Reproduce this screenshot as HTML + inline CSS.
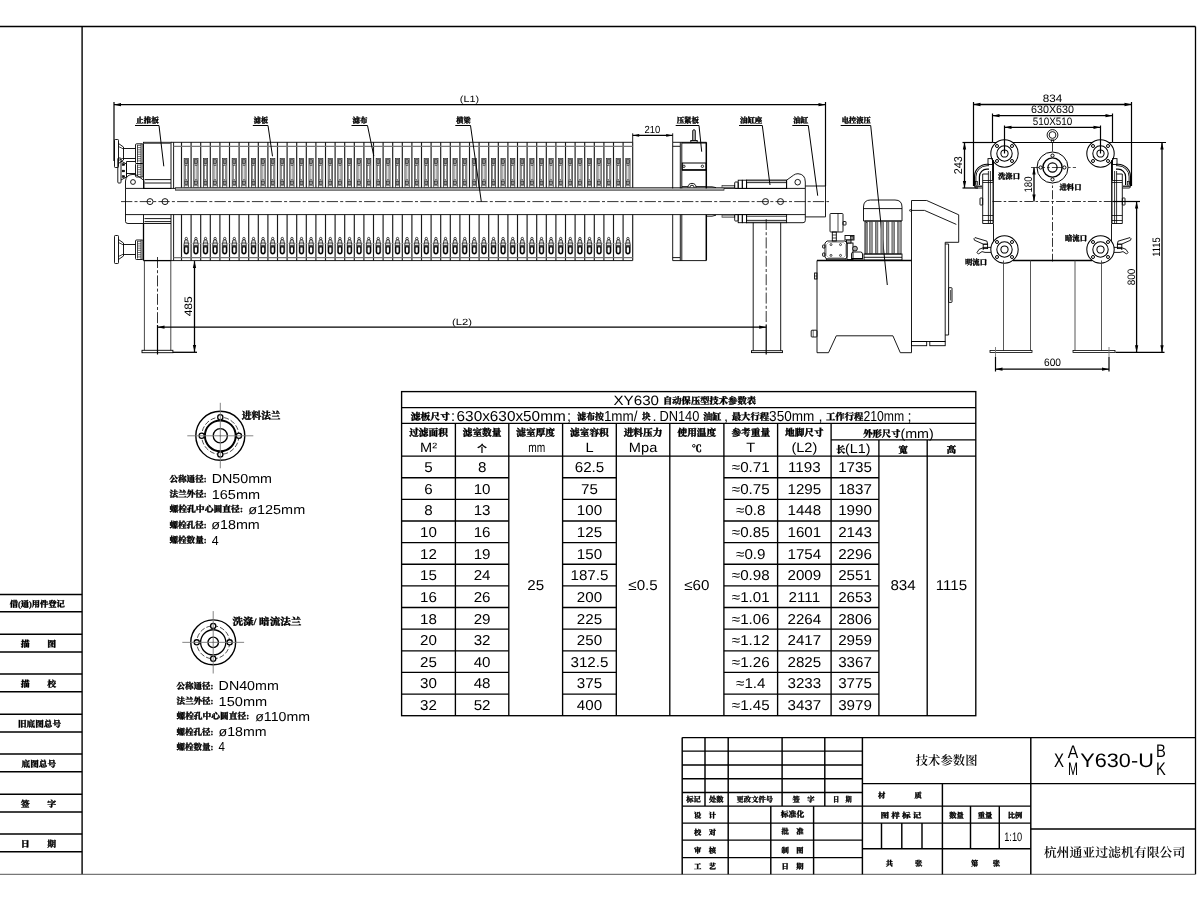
<!DOCTYPE html>
<html lang="zh"><head><meta charset="utf-8"><title>XY630 技术参数图</title>
<style>
html,body{margin:0;padding:0;background:#fff;}
svg{display:block;filter:grayscale(1)}
text{white-space:pre;text-rendering:geometricPrecision}
.l{font-family:"Liberation Sans","Noto Sans CJK SC",sans-serif}
.c{font-family:"Liberation Sans","Noto Sans CJK SC",sans-serif}
.cb{font-family:"Liberation Serif","Noto Serif CJK SC",serif;font-weight:900;stroke:#000;stroke-width:0.3px}
.cs{font-family:"Liberation Serif","Noto Serif CJK SC",serif;font-weight:600}
</style></head><body>
<svg width="1200" height="900" viewBox="0 0 1200 900" shape-rendering="geometricPrecision">
<rect x="0" y="0" width="1200" height="900" fill="#fff"/>
<g id="part_frame">
<line x1="0.00" y1="26.50" x2="1195.50" y2="26.50" stroke="#000" stroke-width="1.3"/>
<line x1="1195.50" y1="26.50" x2="1195.50" y2="874.30" stroke="#000" stroke-width="1.3"/>
<line x1="82.10" y1="26.50" x2="82.10" y2="874.30" stroke="#000" stroke-width="1.4"/>
<line x1="0.00" y1="874.30" x2="1195.50" y2="874.30" stroke="#555" stroke-width="1"/>
<line x1="0.00" y1="594.60" x2="82.10" y2="594.60" stroke="#000" stroke-width="1.5"/>
<line x1="0.00" y1="611.80" x2="82.10" y2="611.80" stroke="#000" stroke-width="1.5"/>
<line x1="0.00" y1="634.20" x2="82.10" y2="634.20" stroke="#000" stroke-width="1.5"/>
<line x1="0.00" y1="652.00" x2="82.10" y2="652.00" stroke="#000" stroke-width="1.5"/>
<line x1="0.00" y1="674.00" x2="82.10" y2="674.00" stroke="#000" stroke-width="1.5"/>
<line x1="0.00" y1="691.80" x2="82.10" y2="691.80" stroke="#000" stroke-width="1.5"/>
<line x1="0.00" y1="714.20" x2="82.10" y2="714.20" stroke="#000" stroke-width="1.5"/>
<line x1="0.00" y1="732.00" x2="82.10" y2="732.00" stroke="#000" stroke-width="1.5"/>
<line x1="0.00" y1="754.00" x2="82.10" y2="754.00" stroke="#000" stroke-width="1.5"/>
<line x1="0.00" y1="771.80" x2="82.10" y2="771.80" stroke="#000" stroke-width="1.5"/>
<line x1="0.00" y1="794.20" x2="82.10" y2="794.20" stroke="#000" stroke-width="1.5"/>
<line x1="0.00" y1="812.00" x2="82.10" y2="812.00" stroke="#000" stroke-width="1.5"/>
<line x1="0.00" y1="834.00" x2="82.10" y2="834.00" stroke="#000" stroke-width="1.5"/>
<line x1="0.00" y1="851.80" x2="82.10" y2="851.80" stroke="#000" stroke-width="1.5"/>
<text x="37.30" y="606.50" class="cb" font-size="8.4" text-anchor="middle" fill="#000" textLength="55.00" lengthAdjust="spacingAndGlyphs">借(通)用件登记</text>
<text x="38.50" y="646.50" class="cb" font-size="8.6" text-anchor="middle" fill="#000" textLength="35.50" lengthAdjust="spacingAndGlyphs">描　　图</text>
<text x="38.50" y="686.50" class="cb" font-size="8.6" text-anchor="middle" fill="#000" textLength="35.50" lengthAdjust="spacingAndGlyphs">描　　校</text>
<text x="39.50" y="726.50" class="cb" font-size="8.6" text-anchor="middle" fill="#000">旧底图总号</text>
<text x="38.80" y="766.50" class="cb" font-size="8.6" text-anchor="middle" fill="#000">底图总号</text>
<text x="38.50" y="806.50" class="cb" font-size="8.6" text-anchor="middle" fill="#000" textLength="35.50" lengthAdjust="spacingAndGlyphs">签　　字</text>
<text x="38.50" y="846.50" class="cb" font-size="8.6" text-anchor="middle" fill="#000" textLength="35.50" lengthAdjust="spacingAndGlyphs">日　　期</text>
</g>
<g id="part_table">
<rect x="401.60" y="391.60" width="574.20" height="324.10" fill="none" stroke="#000" stroke-width="1.35"/>
<line x1="401.60" y1="407.60" x2="975.80" y2="407.60" stroke="#000" stroke-width="1.35"/>
<line x1="401.60" y1="423.40" x2="975.80" y2="423.40" stroke="#000" stroke-width="1.35"/>
<line x1="401.60" y1="456.10" x2="975.80" y2="456.10" stroke="#000" stroke-width="1.35"/>
<line x1="455.40" y1="423.40" x2="455.40" y2="715.70" stroke="#000" stroke-width="1.35"/>
<line x1="508.80" y1="423.40" x2="508.80" y2="715.70" stroke="#000" stroke-width="1.35"/>
<line x1="562.60" y1="423.40" x2="562.60" y2="715.70" stroke="#000" stroke-width="1.35"/>
<line x1="616.30" y1="423.40" x2="616.30" y2="715.70" stroke="#000" stroke-width="1.35"/>
<line x1="669.80" y1="423.40" x2="669.80" y2="715.70" stroke="#000" stroke-width="1.35"/>
<line x1="723.90" y1="423.40" x2="723.90" y2="715.70" stroke="#000" stroke-width="1.35"/>
<line x1="777.60" y1="423.40" x2="777.60" y2="715.70" stroke="#000" stroke-width="1.35"/>
<line x1="831.10" y1="423.40" x2="831.10" y2="715.70" stroke="#000" stroke-width="1.35"/>
<line x1="878.90" y1="439.90" x2="878.90" y2="715.70" stroke="#000" stroke-width="1.35"/>
<line x1="927.20" y1="439.90" x2="927.20" y2="715.70" stroke="#000" stroke-width="1.35"/>
<line x1="831.10" y1="439.90" x2="975.80" y2="439.90" stroke="#000" stroke-width="1.35"/>
<line x1="401.60" y1="477.73" x2="508.80" y2="477.73" stroke="#000" stroke-width="1.35"/>
<line x1="562.60" y1="477.73" x2="616.30" y2="477.73" stroke="#000" stroke-width="1.35"/>
<line x1="723.90" y1="477.73" x2="878.90" y2="477.73" stroke="#000" stroke-width="1.35"/>
<line x1="401.60" y1="499.37" x2="508.80" y2="499.37" stroke="#000" stroke-width="1.35"/>
<line x1="562.60" y1="499.37" x2="616.30" y2="499.37" stroke="#000" stroke-width="1.35"/>
<line x1="723.90" y1="499.37" x2="878.90" y2="499.37" stroke="#000" stroke-width="1.35"/>
<line x1="401.60" y1="521.00" x2="508.80" y2="521.00" stroke="#000" stroke-width="1.35"/>
<line x1="562.60" y1="521.00" x2="616.30" y2="521.00" stroke="#000" stroke-width="1.35"/>
<line x1="723.90" y1="521.00" x2="878.90" y2="521.00" stroke="#000" stroke-width="1.35"/>
<line x1="401.60" y1="542.63" x2="508.80" y2="542.63" stroke="#000" stroke-width="1.35"/>
<line x1="562.60" y1="542.63" x2="616.30" y2="542.63" stroke="#000" stroke-width="1.35"/>
<line x1="723.90" y1="542.63" x2="878.90" y2="542.63" stroke="#000" stroke-width="1.35"/>
<line x1="401.60" y1="564.27" x2="508.80" y2="564.27" stroke="#000" stroke-width="1.35"/>
<line x1="562.60" y1="564.27" x2="616.30" y2="564.27" stroke="#000" stroke-width="1.35"/>
<line x1="723.90" y1="564.27" x2="878.90" y2="564.27" stroke="#000" stroke-width="1.35"/>
<line x1="401.60" y1="585.90" x2="508.80" y2="585.90" stroke="#000" stroke-width="1.35"/>
<line x1="562.60" y1="585.90" x2="616.30" y2="585.90" stroke="#000" stroke-width="1.35"/>
<line x1="723.90" y1="585.90" x2="878.90" y2="585.90" stroke="#000" stroke-width="1.35"/>
<line x1="401.60" y1="607.53" x2="508.80" y2="607.53" stroke="#000" stroke-width="1.35"/>
<line x1="562.60" y1="607.53" x2="616.30" y2="607.53" stroke="#000" stroke-width="1.35"/>
<line x1="723.90" y1="607.53" x2="878.90" y2="607.53" stroke="#000" stroke-width="1.35"/>
<line x1="401.60" y1="629.17" x2="508.80" y2="629.17" stroke="#000" stroke-width="1.35"/>
<line x1="562.60" y1="629.17" x2="616.30" y2="629.17" stroke="#000" stroke-width="1.35"/>
<line x1="723.90" y1="629.17" x2="878.90" y2="629.17" stroke="#000" stroke-width="1.35"/>
<line x1="401.60" y1="650.80" x2="508.80" y2="650.80" stroke="#000" stroke-width="1.35"/>
<line x1="562.60" y1="650.80" x2="616.30" y2="650.80" stroke="#000" stroke-width="1.35"/>
<line x1="723.90" y1="650.80" x2="878.90" y2="650.80" stroke="#000" stroke-width="1.35"/>
<line x1="401.60" y1="672.43" x2="508.80" y2="672.43" stroke="#000" stroke-width="1.35"/>
<line x1="562.60" y1="672.43" x2="616.30" y2="672.43" stroke="#000" stroke-width="1.35"/>
<line x1="723.90" y1="672.43" x2="878.90" y2="672.43" stroke="#000" stroke-width="1.35"/>
<line x1="401.60" y1="694.07" x2="508.80" y2="694.07" stroke="#000" stroke-width="1.35"/>
<line x1="562.60" y1="694.07" x2="616.30" y2="694.07" stroke="#000" stroke-width="1.35"/>
<line x1="723.90" y1="694.07" x2="878.90" y2="694.07" stroke="#000" stroke-width="1.35"/>
<text x="613.50" y="404.50" class="l" font-size="13.5" text-anchor="start" fill="#000" textLength="45.50" lengthAdjust="spacingAndGlyphs">XY630</text>
<text x="663.00" y="403.60" class="cb" font-size="9.3" text-anchor="start" fill="#000" textLength="93.00" lengthAdjust="spacingAndGlyphs">自动保压型技术参数表</text>
<text x="410.70" y="419.80" class="cb" font-size="9.5" text-anchor="start" fill="#000" textLength="39.30" lengthAdjust="spacingAndGlyphs">滤板尺寸</text>
<text x="451.00" y="420.80" class="l" font-size="14.5" text-anchor="start" fill="#000">:</text>
<text x="456.60" y="420.80" class="l" font-size="14.5" text-anchor="start" fill="#000" textLength="109.10" lengthAdjust="spacingAndGlyphs">630x630x50mm</text>
<text x="567.00" y="420.80" class="l" font-size="14.5" text-anchor="start" fill="#000">;</text>
<text x="577.30" y="419.80" class="cb" font-size="9.5" text-anchor="start" fill="#000" textLength="26.60" lengthAdjust="spacingAndGlyphs">滤布按</text>
<text x="603.90" y="420.80" class="l" font-size="14.5" text-anchor="start" fill="#000" textLength="33.60" lengthAdjust="spacingAndGlyphs">1mm/</text>
<text x="641.90" y="419.80" class="cb" font-size="9.5" text-anchor="start" fill="#000" textLength="8.60" lengthAdjust="spacingAndGlyphs">块</text>
<text x="652.50" y="420.80" class="l" font-size="14.5" text-anchor="start" fill="#000">.</text>
<text x="659.40" y="420.80" class="l" font-size="14.5" text-anchor="start" fill="#000" textLength="40.00" lengthAdjust="spacingAndGlyphs">DN140</text>
<text x="703.20" y="419.80" class="cb" font-size="9.5" text-anchor="start" fill="#000" textLength="18.10" lengthAdjust="spacingAndGlyphs">油缸</text>
<text x="724.00" y="420.80" class="l" font-size="14.5" text-anchor="start" fill="#000">,</text>
<text x="731.70" y="419.80" class="cb" font-size="9.5" text-anchor="start" fill="#000" textLength="37.40" lengthAdjust="spacingAndGlyphs">最大行程</text>
<text x="769.10" y="420.80" class="l" font-size="14.5" text-anchor="start" fill="#000" textLength="45.20" lengthAdjust="spacingAndGlyphs">350mm</text>
<text x="818.50" y="420.80" class="l" font-size="14.5" text-anchor="start" fill="#000">,</text>
<text x="826.00" y="419.80" class="cb" font-size="9.5" text-anchor="start" fill="#000" textLength="37.40" lengthAdjust="spacingAndGlyphs">工作行程</text>
<text x="863.40" y="420.80" class="l" font-size="14.5" text-anchor="start" fill="#000" textLength="40.80" lengthAdjust="spacingAndGlyphs">210mm</text>
<text x="907.50" y="420.80" class="l" font-size="14.5" text-anchor="start" fill="#000">;</text>
<text x="428.50" y="436.30" class="cb" font-size="9.7" text-anchor="middle" fill="#000">过滤面积</text>
<text x="0" y="0" class="l" font-size="13.5" text-anchor="middle" fill="#000" transform="translate(428.50,452.30) scale(1.08,1)">M²</text>
<text x="482.10" y="436.30" class="cb" font-size="9.7" text-anchor="middle" fill="#000">滤室数量</text>
<text x="482.10" y="451.80" class="c" font-size="10" text-anchor="middle" fill="#000" font-weight="700">个</text>
<text x="535.70" y="436.30" class="cb" font-size="9.7" text-anchor="middle" fill="#000">滤室厚度</text>
<text x="536.70" y="452.30" class="l" font-size="13.5" text-anchor="middle" fill="#000" textLength="17.00" lengthAdjust="spacingAndGlyphs">mm</text>
<text x="589.45" y="436.30" class="cb" font-size="9.7" text-anchor="middle" fill="#000">滤室容积</text>
<text x="0" y="0" class="l" font-size="13.5" text-anchor="middle" fill="#000" transform="translate(589.45,452.30) scale(1.08,1)">L</text>
<text x="643.05" y="436.30" class="cb" font-size="9.7" text-anchor="middle" fill="#000">进料压力</text>
<text x="0" y="0" class="l" font-size="13.5" text-anchor="middle" fill="#000" transform="translate(643.05,452.30) scale(1.08,1)">Mpa</text>
<text x="696.85" y="436.30" class="cb" font-size="9.7" text-anchor="middle" fill="#000">使用温度</text>
<text x="696.85" y="451.80" class="cb" font-size="10" text-anchor="middle" fill="#000">℃</text>
<text x="750.75" y="436.30" class="cb" font-size="9.7" text-anchor="middle" fill="#000">参考重量</text>
<text x="0" y="0" class="l" font-size="13.5" text-anchor="middle" fill="#000" transform="translate(750.75,452.30) scale(1.08,1)">T</text>
<text x="804.35" y="436.30" class="cb" font-size="9.7" text-anchor="middle" fill="#000">地脚尺寸</text>
<text x="0" y="0" class="l" font-size="13.5" text-anchor="middle" fill="#000" transform="translate(804.35,452.30) scale(1.08,1)">(L2)</text>
<text x="900.45" y="436.50" class="cb" font-size="9.3" text-anchor="end" fill="#000">外形尺寸</text>
<text x="0" y="0" class="l" font-size="13" text-anchor="start" fill="#000" transform="translate(900.45,437.50) scale(1.1,1)">(mm)</text>
<text x="836.00" y="452.50" class="cb" font-size="9.3" text-anchor="start" fill="#000">长</text>
<text x="0" y="0" class="l" font-size="13" text-anchor="start" fill="#000" transform="translate(845.00,453.00) scale(1.1,1)">(L1)</text>
<text x="903.05" y="452.50" class="cb" font-size="9.3" text-anchor="middle" fill="#000">宽</text>
<text x="951.50" y="452.50" class="cb" font-size="9.3" text-anchor="middle" fill="#000">高</text>
<text x="0" y="0" class="l" font-size="14.3" text-anchor="middle" fill="#000" transform="translate(428.50,472.12) scale(1.06,1)">5</text>
<text x="0" y="0" class="l" font-size="14.3" text-anchor="middle" fill="#000" transform="translate(482.10,472.12) scale(1.06,1)">8</text>
<text x="0" y="0" class="l" font-size="14.3" text-anchor="middle" fill="#000" transform="translate(589.45,472.12) scale(1.06,1)">62.5</text>
<text x="0" y="0" class="l" font-size="14.3" text-anchor="middle" fill="#000" transform="translate(804.35,472.12) scale(1.06,1)">1193</text>
<text x="0" y="0" class="l" font-size="14.3" text-anchor="middle" fill="#000" transform="translate(855.00,472.12) scale(1.06,1)">1735</text>
<text x="0" y="0" class="l" font-size="14.3" text-anchor="middle" fill="#000" transform="translate(750.75,472.12) scale(1.06,1)">≈0.71</text>
<text x="0" y="0" class="l" font-size="14.3" text-anchor="middle" fill="#000" transform="translate(428.50,493.75) scale(1.06,1)">6</text>
<text x="0" y="0" class="l" font-size="14.3" text-anchor="middle" fill="#000" transform="translate(482.10,493.75) scale(1.06,1)">10</text>
<text x="0" y="0" class="l" font-size="14.3" text-anchor="middle" fill="#000" transform="translate(589.45,493.75) scale(1.06,1)">75</text>
<text x="0" y="0" class="l" font-size="14.3" text-anchor="middle" fill="#000" transform="translate(804.35,493.75) scale(1.06,1)">1295</text>
<text x="0" y="0" class="l" font-size="14.3" text-anchor="middle" fill="#000" transform="translate(855.00,493.75) scale(1.06,1)">1837</text>
<text x="0" y="0" class="l" font-size="14.3" text-anchor="middle" fill="#000" transform="translate(750.75,493.75) scale(1.06,1)">≈0.75</text>
<text x="0" y="0" class="l" font-size="14.3" text-anchor="middle" fill="#000" transform="translate(428.50,515.38) scale(1.06,1)">8</text>
<text x="0" y="0" class="l" font-size="14.3" text-anchor="middle" fill="#000" transform="translate(482.10,515.38) scale(1.06,1)">13</text>
<text x="0" y="0" class="l" font-size="14.3" text-anchor="middle" fill="#000" transform="translate(589.45,515.38) scale(1.06,1)">100</text>
<text x="0" y="0" class="l" font-size="14.3" text-anchor="middle" fill="#000" transform="translate(804.35,515.38) scale(1.06,1)">1448</text>
<text x="0" y="0" class="l" font-size="14.3" text-anchor="middle" fill="#000" transform="translate(855.00,515.38) scale(1.06,1)">1990</text>
<text x="0" y="0" class="l" font-size="14.3" text-anchor="middle" fill="#000" transform="translate(750.75,515.38) scale(1.06,1)">≈0.8</text>
<text x="0" y="0" class="l" font-size="14.3" text-anchor="middle" fill="#000" transform="translate(428.50,537.02) scale(1.06,1)">10</text>
<text x="0" y="0" class="l" font-size="14.3" text-anchor="middle" fill="#000" transform="translate(482.10,537.02) scale(1.06,1)">16</text>
<text x="0" y="0" class="l" font-size="14.3" text-anchor="middle" fill="#000" transform="translate(589.45,537.02) scale(1.06,1)">125</text>
<text x="0" y="0" class="l" font-size="14.3" text-anchor="middle" fill="#000" transform="translate(804.35,537.02) scale(1.06,1)">1601</text>
<text x="0" y="0" class="l" font-size="14.3" text-anchor="middle" fill="#000" transform="translate(855.00,537.02) scale(1.06,1)">2143</text>
<text x="0" y="0" class="l" font-size="14.3" text-anchor="middle" fill="#000" transform="translate(750.75,537.02) scale(1.06,1)">≈0.85</text>
<text x="0" y="0" class="l" font-size="14.3" text-anchor="middle" fill="#000" transform="translate(428.50,558.65) scale(1.06,1)">12</text>
<text x="0" y="0" class="l" font-size="14.3" text-anchor="middle" fill="#000" transform="translate(482.10,558.65) scale(1.06,1)">19</text>
<text x="0" y="0" class="l" font-size="14.3" text-anchor="middle" fill="#000" transform="translate(589.45,558.65) scale(1.06,1)">150</text>
<text x="0" y="0" class="l" font-size="14.3" text-anchor="middle" fill="#000" transform="translate(804.35,558.65) scale(1.06,1)">1754</text>
<text x="0" y="0" class="l" font-size="14.3" text-anchor="middle" fill="#000" transform="translate(855.00,558.65) scale(1.06,1)">2296</text>
<text x="0" y="0" class="l" font-size="14.3" text-anchor="middle" fill="#000" transform="translate(750.75,558.65) scale(1.06,1)">≈0.9</text>
<text x="0" y="0" class="l" font-size="14.3" text-anchor="middle" fill="#000" transform="translate(428.50,580.28) scale(1.06,1)">15</text>
<text x="0" y="0" class="l" font-size="14.3" text-anchor="middle" fill="#000" transform="translate(482.10,580.28) scale(1.06,1)">24</text>
<text x="0" y="0" class="l" font-size="14.3" text-anchor="middle" fill="#000" transform="translate(589.45,580.28) scale(1.06,1)">187.5</text>
<text x="0" y="0" class="l" font-size="14.3" text-anchor="middle" fill="#000" transform="translate(804.35,580.28) scale(1.06,1)">2009</text>
<text x="0" y="0" class="l" font-size="14.3" text-anchor="middle" fill="#000" transform="translate(855.00,580.28) scale(1.06,1)">2551</text>
<text x="0" y="0" class="l" font-size="14.3" text-anchor="middle" fill="#000" transform="translate(750.75,580.28) scale(1.06,1)">≈0.98</text>
<text x="0" y="0" class="l" font-size="14.3" text-anchor="middle" fill="#000" transform="translate(428.50,601.92) scale(1.06,1)">16</text>
<text x="0" y="0" class="l" font-size="14.3" text-anchor="middle" fill="#000" transform="translate(482.10,601.92) scale(1.06,1)">26</text>
<text x="0" y="0" class="l" font-size="14.3" text-anchor="middle" fill="#000" transform="translate(589.45,601.92) scale(1.06,1)">200</text>
<text x="0" y="0" class="l" font-size="14.3" text-anchor="middle" fill="#000" transform="translate(804.35,601.92) scale(1.06,1)">2111</text>
<text x="0" y="0" class="l" font-size="14.3" text-anchor="middle" fill="#000" transform="translate(855.00,601.92) scale(1.06,1)">2653</text>
<text x="0" y="0" class="l" font-size="14.3" text-anchor="middle" fill="#000" transform="translate(750.75,601.92) scale(1.06,1)">≈1.01</text>
<text x="0" y="0" class="l" font-size="14.3" text-anchor="middle" fill="#000" transform="translate(428.50,623.55) scale(1.06,1)">18</text>
<text x="0" y="0" class="l" font-size="14.3" text-anchor="middle" fill="#000" transform="translate(482.10,623.55) scale(1.06,1)">29</text>
<text x="0" y="0" class="l" font-size="14.3" text-anchor="middle" fill="#000" transform="translate(589.45,623.55) scale(1.06,1)">225</text>
<text x="0" y="0" class="l" font-size="14.3" text-anchor="middle" fill="#000" transform="translate(804.35,623.55) scale(1.06,1)">2264</text>
<text x="0" y="0" class="l" font-size="14.3" text-anchor="middle" fill="#000" transform="translate(855.00,623.55) scale(1.06,1)">2806</text>
<text x="0" y="0" class="l" font-size="14.3" text-anchor="middle" fill="#000" transform="translate(750.75,623.55) scale(1.06,1)">≈1.06</text>
<text x="0" y="0" class="l" font-size="14.3" text-anchor="middle" fill="#000" transform="translate(428.50,645.18) scale(1.06,1)">20</text>
<text x="0" y="0" class="l" font-size="14.3" text-anchor="middle" fill="#000" transform="translate(482.10,645.18) scale(1.06,1)">32</text>
<text x="0" y="0" class="l" font-size="14.3" text-anchor="middle" fill="#000" transform="translate(589.45,645.18) scale(1.06,1)">250</text>
<text x="0" y="0" class="l" font-size="14.3" text-anchor="middle" fill="#000" transform="translate(804.35,645.18) scale(1.06,1)">2417</text>
<text x="0" y="0" class="l" font-size="14.3" text-anchor="middle" fill="#000" transform="translate(855.00,645.18) scale(1.06,1)">2959</text>
<text x="0" y="0" class="l" font-size="14.3" text-anchor="middle" fill="#000" transform="translate(750.75,645.18) scale(1.06,1)">≈1.12</text>
<text x="0" y="0" class="l" font-size="14.3" text-anchor="middle" fill="#000" transform="translate(428.50,666.82) scale(1.06,1)">25</text>
<text x="0" y="0" class="l" font-size="14.3" text-anchor="middle" fill="#000" transform="translate(482.10,666.82) scale(1.06,1)">40</text>
<text x="0" y="0" class="l" font-size="14.3" text-anchor="middle" fill="#000" transform="translate(589.45,666.82) scale(1.06,1)">312.5</text>
<text x="0" y="0" class="l" font-size="14.3" text-anchor="middle" fill="#000" transform="translate(804.35,666.82) scale(1.06,1)">2825</text>
<text x="0" y="0" class="l" font-size="14.3" text-anchor="middle" fill="#000" transform="translate(855.00,666.82) scale(1.06,1)">3367</text>
<text x="0" y="0" class="l" font-size="14.3" text-anchor="middle" fill="#000" transform="translate(750.75,666.82) scale(1.06,1)">≈1.26</text>
<text x="0" y="0" class="l" font-size="14.3" text-anchor="middle" fill="#000" transform="translate(428.50,688.45) scale(1.06,1)">30</text>
<text x="0" y="0" class="l" font-size="14.3" text-anchor="middle" fill="#000" transform="translate(482.10,688.45) scale(1.06,1)">48</text>
<text x="0" y="0" class="l" font-size="14.3" text-anchor="middle" fill="#000" transform="translate(589.45,688.45) scale(1.06,1)">375</text>
<text x="0" y="0" class="l" font-size="14.3" text-anchor="middle" fill="#000" transform="translate(804.35,688.45) scale(1.06,1)">3233</text>
<text x="0" y="0" class="l" font-size="14.3" text-anchor="middle" fill="#000" transform="translate(855.00,688.45) scale(1.06,1)">3775</text>
<text x="0" y="0" class="l" font-size="14.3" text-anchor="middle" fill="#000" transform="translate(750.75,688.45) scale(1.06,1)">≈1.4</text>
<text x="0" y="0" class="l" font-size="14.3" text-anchor="middle" fill="#000" transform="translate(428.50,710.08) scale(1.06,1)">32</text>
<text x="0" y="0" class="l" font-size="14.3" text-anchor="middle" fill="#000" transform="translate(482.10,710.08) scale(1.06,1)">52</text>
<text x="0" y="0" class="l" font-size="14.3" text-anchor="middle" fill="#000" transform="translate(589.45,710.08) scale(1.06,1)">400</text>
<text x="0" y="0" class="l" font-size="14.3" text-anchor="middle" fill="#000" transform="translate(804.35,710.08) scale(1.06,1)">3437</text>
<text x="0" y="0" class="l" font-size="14.3" text-anchor="middle" fill="#000" transform="translate(855.00,710.08) scale(1.06,1)">3979</text>
<text x="0" y="0" class="l" font-size="14.3" text-anchor="middle" fill="#000" transform="translate(750.75,710.08) scale(1.06,1)">≈1.45</text>
<text x="0" y="0" class="l" font-size="14.3" text-anchor="middle" fill="#000" transform="translate(535.70,589.60) scale(1.06,1)">25</text>
<text x="0" y="0" class="l" font-size="14.3" text-anchor="middle" fill="#000" transform="translate(643.05,589.60) scale(1.06,1)">≤0.5</text>
<text x="0" y="0" class="l" font-size="14.3" text-anchor="middle" fill="#000" transform="translate(696.85,589.60) scale(1.06,1)">≤60</text>
<text x="0" y="0" class="l" font-size="14.3" text-anchor="middle" fill="#000" transform="translate(903.05,589.60) scale(1.06,1)">834</text>
<text x="0" y="0" class="l" font-size="14.3" text-anchor="middle" fill="#000" transform="translate(951.50,589.60) scale(1.06,1)">1115</text>
</g>
<g id="part_title">
<line x1="682.20" y1="737.60" x2="1195.50" y2="737.60" stroke="#000" stroke-width="1.45"/>
<line x1="682.20" y1="737.60" x2="682.20" y2="874.30" stroke="#000" stroke-width="1.45"/>
<line x1="682.20" y1="751.10" x2="862.40" y2="751.10" stroke="#000" stroke-width="1.45"/>
<line x1="682.20" y1="764.90" x2="862.40" y2="764.90" stroke="#000" stroke-width="1.45"/>
<line x1="682.20" y1="778.70" x2="862.40" y2="778.70" stroke="#000" stroke-width="1.45"/>
<line x1="682.20" y1="792.50" x2="862.40" y2="792.50" stroke="#000" stroke-width="1.45"/>
<line x1="682.20" y1="806.10" x2="862.40" y2="806.10" stroke="#000" stroke-width="1.45"/>
<line x1="705.00" y1="737.60" x2="705.00" y2="806.10" stroke="#000" stroke-width="1.45"/>
<line x1="728.20" y1="737.60" x2="728.20" y2="806.10" stroke="#000" stroke-width="1.45"/>
<line x1="782.10" y1="737.60" x2="782.10" y2="806.10" stroke="#000" stroke-width="1.45"/>
<line x1="824.80" y1="737.60" x2="824.80" y2="806.10" stroke="#000" stroke-width="1.45"/>
<line x1="862.40" y1="737.60" x2="862.40" y2="874.30" stroke="#000" stroke-width="1.45"/>
<line x1="682.20" y1="823.10" x2="862.40" y2="823.10" stroke="#000" stroke-width="1.45"/>
<line x1="682.20" y1="840.10" x2="862.40" y2="840.10" stroke="#000" stroke-width="1.45"/>
<line x1="682.20" y1="857.60" x2="862.40" y2="857.60" stroke="#000" stroke-width="1.45"/>
<line x1="728.20" y1="806.10" x2="728.20" y2="874.30" stroke="#000" stroke-width="1.45"/>
<line x1="770.80" y1="806.10" x2="770.80" y2="874.30" stroke="#000" stroke-width="1.45"/>
<line x1="813.60" y1="806.10" x2="813.60" y2="874.30" stroke="#000" stroke-width="1.45"/>
<line x1="862.40" y1="783.60" x2="1195.50" y2="783.60" stroke="#000" stroke-width="1.45"/>
<line x1="862.40" y1="806.10" x2="1030.80" y2="806.10" stroke="#000" stroke-width="1.45"/>
<line x1="862.40" y1="823.10" x2="1030.80" y2="823.10" stroke="#000" stroke-width="1.45"/>
<line x1="862.40" y1="848.80" x2="1030.80" y2="848.80" stroke="#000" stroke-width="1.45"/>
<line x1="942.40" y1="783.60" x2="942.40" y2="874.30" stroke="#000" stroke-width="1.45"/>
<line x1="1030.80" y1="737.60" x2="1030.80" y2="874.30" stroke="#000" stroke-width="1.45"/>
<line x1="881.50" y1="823.10" x2="881.50" y2="848.80" stroke="#000" stroke-width="1.45"/>
<line x1="901.80" y1="823.10" x2="901.80" y2="848.80" stroke="#000" stroke-width="1.45"/>
<line x1="922.00" y1="823.10" x2="922.00" y2="848.80" stroke="#000" stroke-width="1.45"/>
<line x1="970.50" y1="806.10" x2="970.50" y2="848.80" stroke="#000" stroke-width="1.45"/>
<line x1="999.30" y1="806.10" x2="999.30" y2="848.80" stroke="#000" stroke-width="1.45"/>
<line x1="1030.80" y1="829.00" x2="1195.50" y2="829.00" stroke="#000" stroke-width="1.45"/>
<text x="693.60" y="801.60" class="cb" font-size="7.3" text-anchor="middle" fill="#000">标记</text>
<text x="716.20" y="801.60" class="cb" font-size="7.3" text-anchor="middle" fill="#000">处数</text>
<text x="754.80" y="801.60" class="cb" font-size="7.3" text-anchor="middle" fill="#000">更改文件号</text>
<text x="803.50" y="801.60" class="cb" font-size="7.3" text-anchor="middle" fill="#000">签　字</text>
<text x="842.30" y="801.60" class="cb" font-size="7.3" text-anchor="middle" fill="#000" textLength="18.50" lengthAdjust="spacingAndGlyphs">日　期</text>
<text x="705.00" y="817.80" class="cb" font-size="7.3" text-anchor="middle" fill="#000">设　计</text>
<text x="705.00" y="834.70" class="cb" font-size="7.3" text-anchor="middle" fill="#000">校　对</text>
<text x="705.00" y="852.60" class="cb" font-size="7.3" text-anchor="middle" fill="#000">审　核</text>
<text x="705.00" y="869.20" class="cb" font-size="7.3" text-anchor="middle" fill="#000">工　艺</text>
<text x="792.50" y="817.30" class="cb" font-size="7.8" text-anchor="middle" fill="#000">标准化</text>
<text x="792.50" y="834.30" class="cb" font-size="7.3" text-anchor="middle" fill="#000">批　准</text>
<text x="792.50" y="852.60" class="cb" font-size="7.3" text-anchor="middle" fill="#000">制　图</text>
<text x="792.50" y="869.20" class="cb" font-size="7.3" text-anchor="middle" fill="#000">日　期</text>
<text x="900.00" y="798.00" class="cb" font-size="7.3" text-anchor="middle" fill="#000">材　　　　质</text>
<text x="901.00" y="817.80" class="cb" font-size="7.3" text-anchor="middle" fill="#000" textLength="41.00" lengthAdjust="spacingAndGlyphs">图 样 标 记</text>
<text x="956.50" y="817.80" class="cb" font-size="7.3" text-anchor="middle" fill="#000">数量</text>
<text x="985.00" y="817.80" class="cb" font-size="7.3" text-anchor="middle" fill="#000">重量</text>
<text x="1015.00" y="817.80" class="cb" font-size="7.3" text-anchor="middle" fill="#000">比例</text>
<text x="904.00" y="866.00" class="cb" font-size="7.3" text-anchor="middle" fill="#000">共　　　张</text>
<text x="985.50" y="866.00" class="cb" font-size="7.3" text-anchor="middle" fill="#000">第　　张</text>
<text x="1013.20" y="841.20" class="l" font-size="12.3" text-anchor="middle" fill="#000" textLength="18.00" lengthAdjust="spacingAndGlyphs">1:10</text>
<text x="0" y="0" class="cs" font-size="13" text-anchor="middle" fill="#000" transform="translate(946.60,765.00) scale(0.95,1)">技术参数图</text>
<text x="0" y="0" class="cs" font-size="13" text-anchor="middle" fill="#000" transform="translate(1114.50,856.50) scale(0.99,1)">杭州通亚过滤机有限公司</text>
<text x="1054.00" y="766.70" class="l" font-size="19.5" text-anchor="start" fill="#000" textLength="10.00" lengthAdjust="spacingAndGlyphs">X</text>
<text x="1073.00" y="757.70" class="l" font-size="18.3" text-anchor="middle" fill="#000" textLength="10.50" lengthAdjust="spacingAndGlyphs">A</text>
<text x="1073.00" y="774.70" class="l" font-size="18.3" text-anchor="middle" fill="#000" textLength="10.00" lengthAdjust="spacingAndGlyphs">M</text>
<text x="1080.30" y="766.70" class="l" font-size="19.5" text-anchor="start" fill="#000" textLength="73.50" lengthAdjust="spacingAndGlyphs">Y630-U</text>
<text x="1161.00" y="757.40" class="l" font-size="18.3" text-anchor="middle" fill="#000" textLength="9.80" lengthAdjust="spacingAndGlyphs">B</text>
<text x="1161.00" y="774.70" class="l" font-size="18.3" text-anchor="middle" fill="#000" textLength="9.80" lengthAdjust="spacingAndGlyphs">K</text>
</g>
<g id="part_flange">
<circle cx="220.30" cy="435.80" r="24.50" fill="none" stroke="#000" stroke-width="1.4"/>
<circle cx="220.30" cy="435.80" r="15.40" fill="none" stroke="#000" stroke-width="2.0"/>
<circle cx="220.30" cy="435.80" r="7.10" fill="none" stroke="#000" stroke-width="1.3"/>
<circle cx="220.30" cy="435.80" r="18.60" fill="none" stroke="#000" stroke-width="0.7" stroke-dasharray="5 2"/>
<circle cx="238.90" cy="435.80" r="2.60" fill="#fff" stroke="#000" stroke-width="1.3"/>
<circle cx="220.30" cy="454.40" r="2.60" fill="#fff" stroke="#000" stroke-width="1.3"/>
<circle cx="201.70" cy="435.80" r="2.60" fill="#fff" stroke="#000" stroke-width="1.3"/>
<circle cx="220.30" cy="417.20" r="2.60" fill="#fff" stroke="#000" stroke-width="1.3"/>
<circle cx="220.30" cy="435.80" r="0.50" fill="#000" stroke="#000" stroke-width="0.3"/>
<line x1="187.30" y1="435.80" x2="253.30" y2="435.80" stroke="#777" stroke-width="0.9"/>
<line x1="220.30" y1="402.80" x2="220.30" y2="468.30" stroke="#777" stroke-width="0.9"/>
<text x="241.80" y="419.00" class="cb" font-size="9.8" text-anchor="start" fill="#000" textLength="38.70" lengthAdjust="spacingAndGlyphs">进料法兰</text>
<circle cx="213.20" cy="642.35" r="22.45" fill="none" stroke="#000" stroke-width="1.4"/>
<circle cx="213.20" cy="642.35" r="12.60" fill="none" stroke="#000" stroke-width="1.3"/>
<circle cx="213.20" cy="642.35" r="5.25" fill="none" stroke="#000" stroke-width="1.4"/>
<circle cx="213.20" cy="642.35" r="16.45" fill="none" stroke="#000" stroke-width="0.7" stroke-dasharray="5 2"/>
<circle cx="229.65" cy="642.35" r="2.60" fill="#fff" stroke="#000" stroke-width="1.3"/>
<circle cx="213.20" cy="658.80" r="2.60" fill="#fff" stroke="#000" stroke-width="1.3"/>
<circle cx="196.75" cy="642.35" r="2.60" fill="#fff" stroke="#000" stroke-width="1.3"/>
<circle cx="213.20" cy="625.90" r="2.60" fill="#fff" stroke="#000" stroke-width="1.3"/>
<circle cx="213.20" cy="642.35" r="0.50" fill="#000" stroke="#000" stroke-width="0.3"/>
<line x1="182.30" y1="642.35" x2="244.10" y2="642.35" stroke="#777" stroke-width="0.9"/>
<line x1="213.20" y1="611.10" x2="213.20" y2="673.50" stroke="#777" stroke-width="0.9"/>
<text x="232.40" y="625.40" class="cb" font-size="9.8" text-anchor="start" fill="#000" textLength="68.90" lengthAdjust="spacingAndGlyphs">洗涤/ 暗流法兰</text>
<text x="169.40" y="481.80" class="cb" font-size="8.6" text-anchor="start" fill="#000" textLength="37.20" lengthAdjust="spacingAndGlyphs">公称通径:</text>
<text x="211.70" y="483.30" class="l" font-size="13" text-anchor="start" fill="#000" textLength="60.30" lengthAdjust="spacingAndGlyphs">DN50mm</text>
<text x="169.40" y="497.20" class="cb" font-size="8.6" text-anchor="start" fill="#000" textLength="37.20" lengthAdjust="spacingAndGlyphs">法兰外径:</text>
<text x="211.70" y="498.70" class="l" font-size="13" text-anchor="start" fill="#000" textLength="48.50" lengthAdjust="spacingAndGlyphs">165mm</text>
<text x="169.40" y="512.40" class="cb" font-size="8.6" text-anchor="start" fill="#000" textLength="73.50" lengthAdjust="spacingAndGlyphs">螺栓孔中心圆直径:</text>
<text x="248.20" y="513.90" class="l" font-size="13" text-anchor="start" fill="#000" textLength="57.00" lengthAdjust="spacingAndGlyphs">ø125mm</text>
<text x="169.40" y="527.80" class="cb" font-size="8.6" text-anchor="start" fill="#000" textLength="37.20" lengthAdjust="spacingAndGlyphs">螺栓孔径:</text>
<text x="211.20" y="529.30" class="l" font-size="13" text-anchor="start" fill="#000" textLength="48.60" lengthAdjust="spacingAndGlyphs">ø18mm</text>
<text x="169.40" y="543.40" class="cb" font-size="8.6" text-anchor="start" fill="#000" textLength="37.20" lengthAdjust="spacingAndGlyphs">螺栓数量:</text>
<text x="211.70" y="544.90" class="l" font-size="13" text-anchor="start" fill="#000" textLength="6.90" lengthAdjust="spacingAndGlyphs">4</text>
<text x="176.40" y="688.50" class="cb" font-size="8.6" text-anchor="start" fill="#000" textLength="36.90" lengthAdjust="spacingAndGlyphs">公称通径:</text>
<text x="218.60" y="690.00" class="l" font-size="13" text-anchor="start" fill="#000" textLength="60.20" lengthAdjust="spacingAndGlyphs">DN40mm</text>
<text x="176.40" y="704.00" class="cb" font-size="8.6" text-anchor="start" fill="#000" textLength="36.90" lengthAdjust="spacingAndGlyphs">法兰外径:</text>
<text x="218.60" y="705.50" class="l" font-size="13" text-anchor="start" fill="#000" textLength="48.60" lengthAdjust="spacingAndGlyphs">150mm</text>
<text x="176.40" y="719.40" class="cb" font-size="8.6" text-anchor="start" fill="#000" textLength="72.80" lengthAdjust="spacingAndGlyphs">螺栓孔中心圆直径:</text>
<text x="255.20" y="720.90" class="l" font-size="13" text-anchor="start" fill="#000" textLength="54.80" lengthAdjust="spacingAndGlyphs">ø110mm</text>
<text x="176.40" y="734.60" class="cb" font-size="8.6" text-anchor="start" fill="#000" textLength="36.90" lengthAdjust="spacingAndGlyphs">螺栓孔径:</text>
<text x="218.60" y="736.10" class="l" font-size="13" text-anchor="start" fill="#000" textLength="48.00" lengthAdjust="spacingAndGlyphs">ø18mm</text>
<text x="176.40" y="749.80" class="cb" font-size="8.6" text-anchor="start" fill="#000" textLength="36.90" lengthAdjust="spacingAndGlyphs">螺栓数量:</text>
<text x="218.60" y="751.30" class="l" font-size="13" text-anchor="start" fill="#000" textLength="6.40" lengthAdjust="spacingAndGlyphs">4</text>
</g>
<g id="part_side">
<line x1="114.00" y1="104.70" x2="825.50" y2="104.70" stroke="#000" stroke-width="1.25"/>
<polygon points="114.00,104.70 121.00,103.05 121.00,106.35" fill="#000"/>
<polygon points="825.50,104.70 818.50,106.35 818.50,103.05" fill="#000"/>
<line x1="114.00" y1="102.00" x2="114.00" y2="161.00" stroke="#000" stroke-width="1.2"/>
<line x1="825.50" y1="102.00" x2="825.50" y2="186.00" stroke="#000" stroke-width="1.2"/>
<text x="469.50" y="102.00" class="l" font-size="9" text-anchor="middle" fill="#000" textLength="19.30" lengthAdjust="spacingAndGlyphs">(L1)</text>
<line x1="121.00" y1="201.60" x2="829.00" y2="201.60" stroke="#000" stroke-width="0.8" stroke-dasharray="11.3 2.2 3 2.2"/>
<line x1="125.50" y1="188.40" x2="805.30" y2="188.40" stroke="#000" stroke-width="0.9"/>
<line x1="125.50" y1="214.60" x2="805.30" y2="214.60" stroke="#000" stroke-width="0.9"/>
<line x1="125.50" y1="188.40" x2="125.50" y2="221.50" stroke="#000" stroke-width="0.9"/>
<path d="M125.5,221.5 Q125.5,223.5 128,223.5 L143.5,223.5" fill="none" stroke="#000" stroke-width="0.9" />
<circle cx="150.00" cy="201.60" r="3.00" fill="none" stroke="#000" stroke-width="0.9"/>
<circle cx="165.00" cy="201.60" r="3.00" fill="none" stroke="#000" stroke-width="0.9"/>
<circle cx="765.50" cy="201.60" r="3.00" fill="none" stroke="#000" stroke-width="0.9"/>
<circle cx="780.50" cy="201.60" r="3.00" fill="none" stroke="#000" stroke-width="0.9"/>
<path d="M125.5,188.4 L125.5,181 Q126,174.6 133,174.4 Q136,174.4 138,176 L144,180.5 L144,188.4" fill="none" stroke="#000" stroke-width="0.9" />
<circle cx="133.00" cy="182.00" r="2.40" fill="none" stroke="#000" stroke-width="0.9"/>
<rect x="114.50" y="139.50" width="4.00" height="28.00" fill="none" stroke="#000" stroke-width="0.9" rx="0.8"/>
<path d="M118.50,143.50 L123.50,147.00 L123.50,160.00 L118.50,163.50" fill="none" stroke="#000" stroke-width="0.9" />
<path d="M118.50,146.50 L123.50,149.00" fill="none" stroke="#000" stroke-width="0.7200000000000001" />
<path d="M118.50,160.50 L123.50,158.00" fill="none" stroke="#000" stroke-width="0.7200000000000001" />
<line x1="123.50" y1="148.50" x2="135.50" y2="148.50" stroke="#000" stroke-width="0.9"/>
<line x1="123.50" y1="158.50" x2="135.50" y2="158.50" stroke="#000" stroke-width="0.9"/>
<rect x="117.80" y="158.00" width="3.20" height="25.00" fill="none" stroke="#000" stroke-width="0.9" rx="0.8"/>
<path d="M121.00,161.00 L126.50,164.00 L126.50,177.00 L121.00,180.00" fill="none" stroke="#000" stroke-width="0.9" />
<rect x="122.20" y="163.70" width="2.40" height="1.60" fill="#000" stroke="#000" stroke-width="0.6"/>
<rect x="122.20" y="170.20" width="2.40" height="1.60" fill="#000" stroke="#000" stroke-width="0.6"/>
<rect x="122.20" y="175.70" width="2.40" height="1.60" fill="#000" stroke="#000" stroke-width="0.6"/>
<line x1="126.50" y1="161.50" x2="135.50" y2="161.50" stroke="#000" stroke-width="0.9"/>
<line x1="126.50" y1="173.50" x2="135.50" y2="173.50" stroke="#000" stroke-width="0.9"/>
<line x1="126.50" y1="161.50" x2="126.50" y2="177.00" stroke="#000" stroke-width="0.9"/>
<rect x="135.50" y="143.80" width="7.70" height="19.70" fill="none" stroke="#000" stroke-width="0.9" rx="1"/>
<line x1="137.50" y1="144.80" x2="137.50" y2="162.50" stroke="#000" stroke-width="0.7200000000000001"/>
<line x1="141.00" y1="143.80" x2="141.00" y2="163.50" stroke="#000" stroke-width="0.7200000000000001"/>
<line x1="142.20" y1="143.80" x2="142.20" y2="163.50" stroke="#444" stroke-width="0.7200000000000001"/>
<line x1="137.50" y1="145.40" x2="141.00" y2="145.40" stroke="#333" stroke-width="0.7"/>
<line x1="137.50" y1="147.61" x2="141.00" y2="147.61" stroke="#333" stroke-width="0.7"/>
<line x1="137.50" y1="149.82" x2="141.00" y2="149.82" stroke="#333" stroke-width="0.7"/>
<line x1="137.50" y1="152.04" x2="141.00" y2="152.04" stroke="#333" stroke-width="0.7"/>
<line x1="137.50" y1="154.25" x2="141.00" y2="154.25" stroke="#333" stroke-width="0.7"/>
<line x1="137.50" y1="156.46" x2="141.00" y2="156.46" stroke="#333" stroke-width="0.7"/>
<line x1="137.50" y1="158.68" x2="141.00" y2="158.68" stroke="#333" stroke-width="0.7"/>
<line x1="137.50" y1="160.89" x2="141.00" y2="160.89" stroke="#333" stroke-width="0.7"/>
<rect x="135.50" y="163.50" width="7.70" height="13.50" fill="none" stroke="#000" stroke-width="0.9" rx="1"/>
<line x1="137.50" y1="164.50" x2="137.50" y2="176.00" stroke="#000" stroke-width="0.7200000000000001"/>
<line x1="141.00" y1="163.50" x2="141.00" y2="177.00" stroke="#000" stroke-width="0.7200000000000001"/>
<line x1="142.20" y1="163.50" x2="142.20" y2="177.00" stroke="#444" stroke-width="0.7200000000000001"/>
<line x1="137.50" y1="165.10" x2="141.00" y2="165.10" stroke="#333" stroke-width="0.7"/>
<line x1="137.50" y1="167.40" x2="141.00" y2="167.40" stroke="#333" stroke-width="0.7"/>
<line x1="137.50" y1="169.70" x2="141.00" y2="169.70" stroke="#333" stroke-width="0.7"/>
<line x1="137.50" y1="172.00" x2="141.00" y2="172.00" stroke="#333" stroke-width="0.7"/>
<line x1="137.50" y1="174.30" x2="141.00" y2="174.30" stroke="#333" stroke-width="0.7"/>
<rect x="143.50" y="142.30" width="27.50" height="46.10" fill="none" stroke="#000" stroke-width="0.9"/>
<line x1="143.50" y1="143.30" x2="171.00" y2="143.30" stroke="#555" stroke-width="1.2"/>
<line x1="144.50" y1="179.60" x2="171.00" y2="179.60" stroke="#000" stroke-width="0.9"/>
<line x1="144.50" y1="183.00" x2="171.00" y2="183.00" stroke="#000" stroke-width="0.9"/>
<line x1="143.50" y1="223.50" x2="143.50" y2="260.60" stroke="#000" stroke-width="1.3"/>
<line x1="171.00" y1="214.60" x2="171.00" y2="260.60" stroke="#000" stroke-width="0.9"/>
<line x1="143.50" y1="260.60" x2="171.00" y2="260.60" stroke="#000" stroke-width="1.3"/>
<line x1="144.50" y1="218.60" x2="171.00" y2="218.60" stroke="#000" stroke-width="0.9"/>
<line x1="144.50" y1="221.60" x2="171.00" y2="221.60" stroke="#000" stroke-width="0.9"/>
<line x1="143.50" y1="223.50" x2="171.00" y2="223.50" stroke="#000" stroke-width="0.9"/>
<line x1="143.50" y1="214.60" x2="143.50" y2="223.50" stroke="#000" stroke-width="0.9"/>
<rect x="114.50" y="235.50" width="4.00" height="28.00" fill="none" stroke="#000" stroke-width="0.9" rx="0.8"/>
<path d="M118.50,239.50 L123.50,243.00 L123.50,256.00 L118.50,259.50" fill="none" stroke="#000" stroke-width="0.9" />
<path d="M118.50,242.50 L123.50,245.00" fill="none" stroke="#000" stroke-width="0.7200000000000001" />
<path d="M118.50,256.50 L123.50,254.00" fill="none" stroke="#000" stroke-width="0.7200000000000001" />
<line x1="123.50" y1="244.50" x2="135.50" y2="244.50" stroke="#000" stroke-width="0.9"/>
<line x1="123.50" y1="254.50" x2="135.50" y2="254.50" stroke="#000" stroke-width="0.9"/>
<rect x="135.50" y="240.00" width="7.70" height="19.50" fill="none" stroke="#000" stroke-width="0.9" rx="1"/>
<line x1="137.50" y1="241.00" x2="137.50" y2="258.50" stroke="#000" stroke-width="0.7200000000000001"/>
<line x1="141.00" y1="240.00" x2="141.00" y2="259.50" stroke="#000" stroke-width="0.7200000000000001"/>
<line x1="142.20" y1="240.00" x2="142.20" y2="259.50" stroke="#444" stroke-width="0.7200000000000001"/>
<line x1="137.50" y1="241.60" x2="141.00" y2="241.60" stroke="#333" stroke-width="0.7"/>
<line x1="137.50" y1="243.79" x2="141.00" y2="243.79" stroke="#333" stroke-width="0.7"/>
<line x1="137.50" y1="245.97" x2="141.00" y2="245.97" stroke="#333" stroke-width="0.7"/>
<line x1="137.50" y1="248.16" x2="141.00" y2="248.16" stroke="#333" stroke-width="0.7"/>
<line x1="137.50" y1="250.35" x2="141.00" y2="250.35" stroke="#333" stroke-width="0.7"/>
<line x1="137.50" y1="252.54" x2="141.00" y2="252.54" stroke="#333" stroke-width="0.7"/>
<line x1="137.50" y1="254.72" x2="141.00" y2="254.72" stroke="#333" stroke-width="0.7"/>
<line x1="137.50" y1="256.91" x2="141.00" y2="256.91" stroke="#333" stroke-width="0.7"/>
<line x1="144.40" y1="260.60" x2="144.40" y2="350.30" stroke="#333" stroke-width="0.9"/>
<line x1="170.80" y1="260.60" x2="170.80" y2="350.30" stroke="#333" stroke-width="0.9"/>
<rect x="142.00" y="350.30" width="30.90" height="2.40" fill="none" stroke="#000" stroke-width="0.9"/>
<line x1="157.50" y1="257.00" x2="157.50" y2="325.00" stroke="#000" stroke-width="0.8" stroke-dasharray="11 2.2 3 2.2"/>
<line x1="157.50" y1="325.00" x2="157.50" y2="354.50" stroke="#000" stroke-width="1.2"/>
<line x1="173.60" y1="142.30" x2="173.60" y2="188.40" stroke="#000" stroke-width="0.9"/>
<line x1="173.60" y1="214.60" x2="173.60" y2="260.60" stroke="#000" stroke-width="0.9"/>
<line x1="181.50" y1="142.30" x2="181.50" y2="188.40" stroke="#1a1a1a" stroke-width="1.15"/>
<line x1="181.50" y1="214.60" x2="181.50" y2="260.60" stroke="#1a1a1a" stroke-width="1.15"/>
<line x1="191.10" y1="142.30" x2="191.10" y2="188.40" stroke="#1a1a1a" stroke-width="1.15"/>
<line x1="191.10" y1="214.60" x2="191.10" y2="260.60" stroke="#1a1a1a" stroke-width="1.15"/>
<line x1="200.70" y1="142.30" x2="200.70" y2="188.40" stroke="#1a1a1a" stroke-width="1.15"/>
<line x1="200.70" y1="214.60" x2="200.70" y2="260.60" stroke="#1a1a1a" stroke-width="1.15"/>
<line x1="210.30" y1="142.30" x2="210.30" y2="188.40" stroke="#1a1a1a" stroke-width="1.15"/>
<line x1="210.30" y1="214.60" x2="210.30" y2="260.60" stroke="#1a1a1a" stroke-width="1.15"/>
<line x1="219.90" y1="142.30" x2="219.90" y2="188.40" stroke="#1a1a1a" stroke-width="1.15"/>
<line x1="219.90" y1="214.60" x2="219.90" y2="260.60" stroke="#1a1a1a" stroke-width="1.15"/>
<line x1="229.50" y1="142.30" x2="229.50" y2="188.40" stroke="#1a1a1a" stroke-width="1.15"/>
<line x1="229.50" y1="214.60" x2="229.50" y2="260.60" stroke="#1a1a1a" stroke-width="1.15"/>
<line x1="239.10" y1="142.30" x2="239.10" y2="188.40" stroke="#1a1a1a" stroke-width="1.15"/>
<line x1="239.10" y1="214.60" x2="239.10" y2="260.60" stroke="#1a1a1a" stroke-width="1.15"/>
<line x1="248.70" y1="142.30" x2="248.70" y2="188.40" stroke="#1a1a1a" stroke-width="1.15"/>
<line x1="248.70" y1="214.60" x2="248.70" y2="260.60" stroke="#1a1a1a" stroke-width="1.15"/>
<line x1="258.30" y1="142.30" x2="258.30" y2="188.40" stroke="#1a1a1a" stroke-width="1.15"/>
<line x1="258.30" y1="214.60" x2="258.30" y2="260.60" stroke="#1a1a1a" stroke-width="1.15"/>
<line x1="267.90" y1="142.30" x2="267.90" y2="188.40" stroke="#1a1a1a" stroke-width="1.15"/>
<line x1="267.90" y1="214.60" x2="267.90" y2="260.60" stroke="#1a1a1a" stroke-width="1.15"/>
<line x1="277.50" y1="142.30" x2="277.50" y2="188.40" stroke="#1a1a1a" stroke-width="1.15"/>
<line x1="277.50" y1="214.60" x2="277.50" y2="260.60" stroke="#1a1a1a" stroke-width="1.15"/>
<line x1="287.10" y1="142.30" x2="287.10" y2="188.40" stroke="#1a1a1a" stroke-width="1.15"/>
<line x1="287.10" y1="214.60" x2="287.10" y2="260.60" stroke="#1a1a1a" stroke-width="1.15"/>
<line x1="296.70" y1="142.30" x2="296.70" y2="188.40" stroke="#1a1a1a" stroke-width="1.15"/>
<line x1="296.70" y1="214.60" x2="296.70" y2="260.60" stroke="#1a1a1a" stroke-width="1.15"/>
<line x1="306.30" y1="142.30" x2="306.30" y2="188.40" stroke="#1a1a1a" stroke-width="1.15"/>
<line x1="306.30" y1="214.60" x2="306.30" y2="260.60" stroke="#1a1a1a" stroke-width="1.15"/>
<line x1="315.90" y1="142.30" x2="315.90" y2="188.40" stroke="#1a1a1a" stroke-width="1.15"/>
<line x1="315.90" y1="214.60" x2="315.90" y2="260.60" stroke="#1a1a1a" stroke-width="1.15"/>
<line x1="325.50" y1="142.30" x2="325.50" y2="188.40" stroke="#1a1a1a" stroke-width="1.15"/>
<line x1="325.50" y1="214.60" x2="325.50" y2="260.60" stroke="#1a1a1a" stroke-width="1.15"/>
<line x1="335.10" y1="142.30" x2="335.10" y2="188.40" stroke="#1a1a1a" stroke-width="1.15"/>
<line x1="335.10" y1="214.60" x2="335.10" y2="260.60" stroke="#1a1a1a" stroke-width="1.15"/>
<line x1="344.70" y1="142.30" x2="344.70" y2="188.40" stroke="#1a1a1a" stroke-width="1.15"/>
<line x1="344.70" y1="214.60" x2="344.70" y2="260.60" stroke="#1a1a1a" stroke-width="1.15"/>
<line x1="354.30" y1="142.30" x2="354.30" y2="188.40" stroke="#1a1a1a" stroke-width="1.15"/>
<line x1="354.30" y1="214.60" x2="354.30" y2="260.60" stroke="#1a1a1a" stroke-width="1.15"/>
<line x1="363.90" y1="142.30" x2="363.90" y2="188.40" stroke="#1a1a1a" stroke-width="1.15"/>
<line x1="363.90" y1="214.60" x2="363.90" y2="260.60" stroke="#1a1a1a" stroke-width="1.15"/>
<line x1="373.50" y1="142.30" x2="373.50" y2="188.40" stroke="#1a1a1a" stroke-width="1.15"/>
<line x1="373.50" y1="214.60" x2="373.50" y2="260.60" stroke="#1a1a1a" stroke-width="1.15"/>
<line x1="383.10" y1="142.30" x2="383.10" y2="188.40" stroke="#1a1a1a" stroke-width="1.15"/>
<line x1="383.10" y1="214.60" x2="383.10" y2="260.60" stroke="#1a1a1a" stroke-width="1.15"/>
<line x1="392.70" y1="142.30" x2="392.70" y2="188.40" stroke="#1a1a1a" stroke-width="1.15"/>
<line x1="392.70" y1="214.60" x2="392.70" y2="260.60" stroke="#1a1a1a" stroke-width="1.15"/>
<line x1="402.30" y1="142.30" x2="402.30" y2="188.40" stroke="#1a1a1a" stroke-width="1.15"/>
<line x1="402.30" y1="214.60" x2="402.30" y2="260.60" stroke="#1a1a1a" stroke-width="1.15"/>
<line x1="411.90" y1="142.30" x2="411.90" y2="188.40" stroke="#1a1a1a" stroke-width="1.15"/>
<line x1="411.90" y1="214.60" x2="411.90" y2="260.60" stroke="#1a1a1a" stroke-width="1.15"/>
<line x1="421.50" y1="142.30" x2="421.50" y2="188.40" stroke="#1a1a1a" stroke-width="1.15"/>
<line x1="421.50" y1="214.60" x2="421.50" y2="260.60" stroke="#1a1a1a" stroke-width="1.15"/>
<line x1="431.10" y1="142.30" x2="431.10" y2="188.40" stroke="#1a1a1a" stroke-width="1.15"/>
<line x1="431.10" y1="214.60" x2="431.10" y2="260.60" stroke="#1a1a1a" stroke-width="1.15"/>
<line x1="440.70" y1="142.30" x2="440.70" y2="188.40" stroke="#1a1a1a" stroke-width="1.15"/>
<line x1="440.70" y1="214.60" x2="440.70" y2="260.60" stroke="#1a1a1a" stroke-width="1.15"/>
<line x1="450.30" y1="142.30" x2="450.30" y2="188.40" stroke="#1a1a1a" stroke-width="1.15"/>
<line x1="450.30" y1="214.60" x2="450.30" y2="260.60" stroke="#1a1a1a" stroke-width="1.15"/>
<line x1="459.90" y1="142.30" x2="459.90" y2="188.40" stroke="#1a1a1a" stroke-width="1.15"/>
<line x1="459.90" y1="214.60" x2="459.90" y2="260.60" stroke="#1a1a1a" stroke-width="1.15"/>
<line x1="469.50" y1="142.30" x2="469.50" y2="188.40" stroke="#1a1a1a" stroke-width="1.15"/>
<line x1="469.50" y1="214.60" x2="469.50" y2="260.60" stroke="#1a1a1a" stroke-width="1.15"/>
<line x1="479.10" y1="142.30" x2="479.10" y2="188.40" stroke="#1a1a1a" stroke-width="1.15"/>
<line x1="479.10" y1="214.60" x2="479.10" y2="260.60" stroke="#1a1a1a" stroke-width="1.15"/>
<line x1="488.70" y1="142.30" x2="488.70" y2="188.40" stroke="#1a1a1a" stroke-width="1.15"/>
<line x1="488.70" y1="214.60" x2="488.70" y2="260.60" stroke="#1a1a1a" stroke-width="1.15"/>
<line x1="498.30" y1="142.30" x2="498.30" y2="188.40" stroke="#1a1a1a" stroke-width="1.15"/>
<line x1="498.30" y1="214.60" x2="498.30" y2="260.60" stroke="#1a1a1a" stroke-width="1.15"/>
<line x1="507.90" y1="142.30" x2="507.90" y2="188.40" stroke="#1a1a1a" stroke-width="1.15"/>
<line x1="507.90" y1="214.60" x2="507.90" y2="260.60" stroke="#1a1a1a" stroke-width="1.15"/>
<line x1="517.50" y1="142.30" x2="517.50" y2="188.40" stroke="#1a1a1a" stroke-width="1.15"/>
<line x1="517.50" y1="214.60" x2="517.50" y2="260.60" stroke="#1a1a1a" stroke-width="1.15"/>
<line x1="527.10" y1="142.30" x2="527.10" y2="188.40" stroke="#1a1a1a" stroke-width="1.15"/>
<line x1="527.10" y1="214.60" x2="527.10" y2="260.60" stroke="#1a1a1a" stroke-width="1.15"/>
<line x1="536.70" y1="142.30" x2="536.70" y2="188.40" stroke="#1a1a1a" stroke-width="1.15"/>
<line x1="536.70" y1="214.60" x2="536.70" y2="260.60" stroke="#1a1a1a" stroke-width="1.15"/>
<line x1="546.30" y1="142.30" x2="546.30" y2="188.40" stroke="#1a1a1a" stroke-width="1.15"/>
<line x1="546.30" y1="214.60" x2="546.30" y2="260.60" stroke="#1a1a1a" stroke-width="1.15"/>
<line x1="555.90" y1="142.30" x2="555.90" y2="188.40" stroke="#1a1a1a" stroke-width="1.15"/>
<line x1="555.90" y1="214.60" x2="555.90" y2="260.60" stroke="#1a1a1a" stroke-width="1.15"/>
<line x1="565.50" y1="142.30" x2="565.50" y2="188.40" stroke="#1a1a1a" stroke-width="1.15"/>
<line x1="565.50" y1="214.60" x2="565.50" y2="260.60" stroke="#1a1a1a" stroke-width="1.15"/>
<line x1="575.10" y1="142.30" x2="575.10" y2="188.40" stroke="#1a1a1a" stroke-width="1.15"/>
<line x1="575.10" y1="214.60" x2="575.10" y2="260.60" stroke="#1a1a1a" stroke-width="1.15"/>
<line x1="584.70" y1="142.30" x2="584.70" y2="188.40" stroke="#1a1a1a" stroke-width="1.15"/>
<line x1="584.70" y1="214.60" x2="584.70" y2="260.60" stroke="#1a1a1a" stroke-width="1.15"/>
<line x1="594.30" y1="142.30" x2="594.30" y2="188.40" stroke="#1a1a1a" stroke-width="1.15"/>
<line x1="594.30" y1="214.60" x2="594.30" y2="260.60" stroke="#1a1a1a" stroke-width="1.15"/>
<line x1="603.90" y1="142.30" x2="603.90" y2="188.40" stroke="#1a1a1a" stroke-width="1.15"/>
<line x1="603.90" y1="214.60" x2="603.90" y2="260.60" stroke="#1a1a1a" stroke-width="1.15"/>
<line x1="613.50" y1="142.30" x2="613.50" y2="188.40" stroke="#1a1a1a" stroke-width="1.15"/>
<line x1="613.50" y1="214.60" x2="613.50" y2="260.60" stroke="#1a1a1a" stroke-width="1.15"/>
<line x1="623.10" y1="142.30" x2="623.10" y2="188.40" stroke="#1a1a1a" stroke-width="1.15"/>
<line x1="623.10" y1="214.60" x2="623.10" y2="260.60" stroke="#1a1a1a" stroke-width="1.15"/>
<line x1="632.70" y1="142.30" x2="632.70" y2="188.40" stroke="#1a1a1a" stroke-width="1.15"/>
<line x1="632.70" y1="214.60" x2="632.70" y2="260.60" stroke="#1a1a1a" stroke-width="1.15"/>
<line x1="171.00" y1="142.30" x2="632.70" y2="142.30" stroke="#000" stroke-width="0.9"/>
<line x1="173.60" y1="146.30" x2="632.70" y2="146.30" stroke="#777" stroke-width="1.3"/>
<line x1="173.60" y1="257.60" x2="632.70" y2="257.60" stroke="#777" stroke-width="1.3"/>
<line x1="171.00" y1="260.60" x2="632.70" y2="260.60" stroke="#000" stroke-width="0.9"/>
<rect x="175.50" y="187.70" width="548.50" height="2.50" fill="#aaa" stroke="#222" stroke-width="0.7"/>
<line x1="184.00" y1="243.60" x2="630.00" y2="243.60" stroke="#aaa" stroke-width="0.7"/>
<rect x="184.15" y="158.50" width="4.30" height="28.90" fill="#f4f4f4" stroke="#222" stroke-width="0.7"/>
<rect x="185.30" y="165.40" width="2.00" height="14.00" fill="#fff" stroke="#333" stroke-width="0.55"/>
<rect x="184.85" y="159.70" width="2.90" height="3.90" fill="#8a8a8a" stroke="#111" stroke-width="0.6"/>
<rect x="184.85" y="181.20" width="2.90" height="3.40" fill="#999" stroke="#111" stroke-width="0.6"/>
<line x1="184.15" y1="164.80" x2="188.45" y2="164.80" stroke="#333" stroke-width="0.6"/>
<line x1="184.15" y1="180.20" x2="188.45" y2="180.20" stroke="#333" stroke-width="0.6"/>
<line x1="184.15" y1="185.60" x2="188.45" y2="185.60" stroke="#333" stroke-width="0.6"/>
<circle cx="186.30" cy="238.50" r="1.15" fill="none" stroke="#000" stroke-width="0.7"/>
<path d="M184.90,239.9 L187.70,239.9 L188.80,245.6 L183.80,245.6 Z" fill="#ddd" stroke="#111" stroke-width="0.75" />
<line x1="184.10" y1="243.00" x2="188.50" y2="243.00" stroke="#111" stroke-width="0.7"/>
<path d="M183.85,246.2 L183.85,251.6 A2.45,2.7 0 0 0 188.75,251.6 L188.75,246.2 Z" fill="#000" stroke="#000" stroke-width="0.4" />
<path d="M185.25,247.6 L185.25,251.4 A1.05,1.3 0 0 0 187.35,251.4 L187.35,247.6 Z" fill="#fff" stroke="#fff" stroke-width="0.1" />
<rect x="193.75" y="158.50" width="4.30" height="28.90" fill="#f4f4f4" stroke="#222" stroke-width="0.7"/>
<rect x="194.90" y="165.40" width="2.00" height="14.00" fill="#fff" stroke="#333" stroke-width="0.55"/>
<rect x="194.45" y="159.70" width="2.90" height="3.90" fill="#8a8a8a" stroke="#111" stroke-width="0.6"/>
<rect x="194.45" y="181.20" width="2.90" height="3.40" fill="#999" stroke="#111" stroke-width="0.6"/>
<line x1="193.75" y1="164.80" x2="198.05" y2="164.80" stroke="#333" stroke-width="0.6"/>
<line x1="193.75" y1="180.20" x2="198.05" y2="180.20" stroke="#333" stroke-width="0.6"/>
<line x1="193.75" y1="185.60" x2="198.05" y2="185.60" stroke="#333" stroke-width="0.6"/>
<circle cx="195.90" cy="238.50" r="1.15" fill="none" stroke="#000" stroke-width="0.7"/>
<path d="M194.50,239.9 L197.30,239.9 L198.40,245.6 L193.40,245.6 Z" fill="#ddd" stroke="#111" stroke-width="0.75" />
<line x1="193.70" y1="243.00" x2="198.10" y2="243.00" stroke="#111" stroke-width="0.7"/>
<path d="M193.45,246.2 L193.45,251.6 A2.45,2.7 0 0 0 198.35,251.6 L198.35,246.2 Z" fill="#000" stroke="#000" stroke-width="0.4" />
<path d="M194.85,247.6 L194.85,251.4 A1.05,1.3 0 0 0 196.95,251.4 L196.95,247.6 Z" fill="#fff" stroke="#fff" stroke-width="0.1" />
<rect x="203.35" y="158.50" width="4.30" height="28.90" fill="#f4f4f4" stroke="#222" stroke-width="0.7"/>
<rect x="204.50" y="165.40" width="2.00" height="14.00" fill="#fff" stroke="#333" stroke-width="0.55"/>
<rect x="204.05" y="159.70" width="2.90" height="3.90" fill="#8a8a8a" stroke="#111" stroke-width="0.6"/>
<rect x="204.05" y="181.20" width="2.90" height="3.40" fill="#999" stroke="#111" stroke-width="0.6"/>
<line x1="203.35" y1="164.80" x2="207.65" y2="164.80" stroke="#333" stroke-width="0.6"/>
<line x1="203.35" y1="180.20" x2="207.65" y2="180.20" stroke="#333" stroke-width="0.6"/>
<line x1="203.35" y1="185.60" x2="207.65" y2="185.60" stroke="#333" stroke-width="0.6"/>
<circle cx="205.50" cy="238.50" r="1.15" fill="none" stroke="#000" stroke-width="0.7"/>
<path d="M204.10,239.9 L206.90,239.9 L208.00,245.6 L203.00,245.6 Z" fill="#ddd" stroke="#111" stroke-width="0.75" />
<line x1="203.30" y1="243.00" x2="207.70" y2="243.00" stroke="#111" stroke-width="0.7"/>
<path d="M203.05,246.2 L203.05,251.6 A2.45,2.7 0 0 0 207.95,251.6 L207.95,246.2 Z" fill="#000" stroke="#000" stroke-width="0.4" />
<path d="M204.45,247.6 L204.45,251.4 A1.05,1.3 0 0 0 206.55,251.4 L206.55,247.6 Z" fill="#fff" stroke="#fff" stroke-width="0.1" />
<rect x="212.95" y="158.50" width="4.30" height="28.90" fill="#f4f4f4" stroke="#222" stroke-width="0.7"/>
<rect x="214.10" y="165.40" width="2.00" height="14.00" fill="#fff" stroke="#333" stroke-width="0.55"/>
<rect x="213.65" y="159.70" width="2.90" height="3.90" fill="#8a8a8a" stroke="#111" stroke-width="0.6"/>
<rect x="213.65" y="181.20" width="2.90" height="3.40" fill="#999" stroke="#111" stroke-width="0.6"/>
<line x1="212.95" y1="164.80" x2="217.25" y2="164.80" stroke="#333" stroke-width="0.6"/>
<line x1="212.95" y1="180.20" x2="217.25" y2="180.20" stroke="#333" stroke-width="0.6"/>
<line x1="212.95" y1="185.60" x2="217.25" y2="185.60" stroke="#333" stroke-width="0.6"/>
<circle cx="215.10" cy="238.50" r="1.15" fill="none" stroke="#000" stroke-width="0.7"/>
<path d="M213.70,239.9 L216.50,239.9 L217.60,245.6 L212.60,245.6 Z" fill="#ddd" stroke="#111" stroke-width="0.75" />
<line x1="212.90" y1="243.00" x2="217.30" y2="243.00" stroke="#111" stroke-width="0.7"/>
<path d="M212.65,246.2 L212.65,251.6 A2.45,2.7 0 0 0 217.55,251.6 L217.55,246.2 Z" fill="#000" stroke="#000" stroke-width="0.4" />
<path d="M214.05,247.6 L214.05,251.4 A1.05,1.3 0 0 0 216.15,251.4 L216.15,247.6 Z" fill="#fff" stroke="#fff" stroke-width="0.1" />
<rect x="222.55" y="158.50" width="4.30" height="28.90" fill="#f4f4f4" stroke="#222" stroke-width="0.7"/>
<rect x="223.70" y="165.40" width="2.00" height="14.00" fill="#fff" stroke="#333" stroke-width="0.55"/>
<rect x="223.25" y="159.70" width="2.90" height="3.90" fill="#8a8a8a" stroke="#111" stroke-width="0.6"/>
<rect x="223.25" y="181.20" width="2.90" height="3.40" fill="#999" stroke="#111" stroke-width="0.6"/>
<line x1="222.55" y1="164.80" x2="226.85" y2="164.80" stroke="#333" stroke-width="0.6"/>
<line x1="222.55" y1="180.20" x2="226.85" y2="180.20" stroke="#333" stroke-width="0.6"/>
<line x1="222.55" y1="185.60" x2="226.85" y2="185.60" stroke="#333" stroke-width="0.6"/>
<circle cx="224.70" cy="238.50" r="1.15" fill="none" stroke="#000" stroke-width="0.7"/>
<path d="M223.30,239.9 L226.10,239.9 L227.20,245.6 L222.20,245.6 Z" fill="#ddd" stroke="#111" stroke-width="0.75" />
<line x1="222.50" y1="243.00" x2="226.90" y2="243.00" stroke="#111" stroke-width="0.7"/>
<path d="M222.25,246.2 L222.25,251.6 A2.45,2.7 0 0 0 227.15,251.6 L227.15,246.2 Z" fill="#000" stroke="#000" stroke-width="0.4" />
<path d="M223.65,247.6 L223.65,251.4 A1.05,1.3 0 0 0 225.75,251.4 L225.75,247.6 Z" fill="#fff" stroke="#fff" stroke-width="0.1" />
<rect x="232.15" y="158.50" width="4.30" height="28.90" fill="#f4f4f4" stroke="#222" stroke-width="0.7"/>
<rect x="233.30" y="165.40" width="2.00" height="14.00" fill="#fff" stroke="#333" stroke-width="0.55"/>
<rect x="232.85" y="159.70" width="2.90" height="3.90" fill="#8a8a8a" stroke="#111" stroke-width="0.6"/>
<rect x="232.85" y="181.20" width="2.90" height="3.40" fill="#999" stroke="#111" stroke-width="0.6"/>
<line x1="232.15" y1="164.80" x2="236.45" y2="164.80" stroke="#333" stroke-width="0.6"/>
<line x1="232.15" y1="180.20" x2="236.45" y2="180.20" stroke="#333" stroke-width="0.6"/>
<line x1="232.15" y1="185.60" x2="236.45" y2="185.60" stroke="#333" stroke-width="0.6"/>
<circle cx="234.30" cy="238.50" r="1.15" fill="none" stroke="#000" stroke-width="0.7"/>
<path d="M232.90,239.9 L235.70,239.9 L236.80,245.6 L231.80,245.6 Z" fill="#ddd" stroke="#111" stroke-width="0.75" />
<line x1="232.10" y1="243.00" x2="236.50" y2="243.00" stroke="#111" stroke-width="0.7"/>
<path d="M231.85,246.2 L231.85,251.6 A2.45,2.7 0 0 0 236.75,251.6 L236.75,246.2 Z" fill="#000" stroke="#000" stroke-width="0.4" />
<path d="M233.25,247.6 L233.25,251.4 A1.05,1.3 0 0 0 235.35,251.4 L235.35,247.6 Z" fill="#fff" stroke="#fff" stroke-width="0.1" />
<rect x="241.75" y="158.50" width="4.30" height="28.90" fill="#f4f4f4" stroke="#222" stroke-width="0.7"/>
<rect x="242.90" y="165.40" width="2.00" height="14.00" fill="#fff" stroke="#333" stroke-width="0.55"/>
<rect x="242.45" y="159.70" width="2.90" height="3.90" fill="#8a8a8a" stroke="#111" stroke-width="0.6"/>
<rect x="242.45" y="181.20" width="2.90" height="3.40" fill="#999" stroke="#111" stroke-width="0.6"/>
<line x1="241.75" y1="164.80" x2="246.05" y2="164.80" stroke="#333" stroke-width="0.6"/>
<line x1="241.75" y1="180.20" x2="246.05" y2="180.20" stroke="#333" stroke-width="0.6"/>
<line x1="241.75" y1="185.60" x2="246.05" y2="185.60" stroke="#333" stroke-width="0.6"/>
<circle cx="243.90" cy="238.50" r="1.15" fill="none" stroke="#000" stroke-width="0.7"/>
<path d="M242.50,239.9 L245.30,239.9 L246.40,245.6 L241.40,245.6 Z" fill="#ddd" stroke="#111" stroke-width="0.75" />
<line x1="241.70" y1="243.00" x2="246.10" y2="243.00" stroke="#111" stroke-width="0.7"/>
<path d="M241.45,246.2 L241.45,251.6 A2.45,2.7 0 0 0 246.35,251.6 L246.35,246.2 Z" fill="#000" stroke="#000" stroke-width="0.4" />
<path d="M242.85,247.6 L242.85,251.4 A1.05,1.3 0 0 0 244.95,251.4 L244.95,247.6 Z" fill="#fff" stroke="#fff" stroke-width="0.1" />
<rect x="251.35" y="158.50" width="4.30" height="28.90" fill="#f4f4f4" stroke="#222" stroke-width="0.7"/>
<rect x="252.50" y="165.40" width="2.00" height="14.00" fill="#fff" stroke="#333" stroke-width="0.55"/>
<rect x="252.05" y="159.70" width="2.90" height="3.90" fill="#8a8a8a" stroke="#111" stroke-width="0.6"/>
<rect x="252.05" y="181.20" width="2.90" height="3.40" fill="#999" stroke="#111" stroke-width="0.6"/>
<line x1="251.35" y1="164.80" x2="255.65" y2="164.80" stroke="#333" stroke-width="0.6"/>
<line x1="251.35" y1="180.20" x2="255.65" y2="180.20" stroke="#333" stroke-width="0.6"/>
<line x1="251.35" y1="185.60" x2="255.65" y2="185.60" stroke="#333" stroke-width="0.6"/>
<circle cx="253.50" cy="238.50" r="1.15" fill="none" stroke="#000" stroke-width="0.7"/>
<path d="M252.10,239.9 L254.90,239.9 L256.00,245.6 L251.00,245.6 Z" fill="#ddd" stroke="#111" stroke-width="0.75" />
<line x1="251.30" y1="243.00" x2="255.70" y2="243.00" stroke="#111" stroke-width="0.7"/>
<path d="M251.05,246.2 L251.05,251.6 A2.45,2.7 0 0 0 255.95,251.6 L255.95,246.2 Z" fill="#000" stroke="#000" stroke-width="0.4" />
<path d="M252.45,247.6 L252.45,251.4 A1.05,1.3 0 0 0 254.55,251.4 L254.55,247.6 Z" fill="#fff" stroke="#fff" stroke-width="0.1" />
<rect x="260.95" y="158.50" width="4.30" height="28.90" fill="#f4f4f4" stroke="#222" stroke-width="0.7"/>
<rect x="262.10" y="165.40" width="2.00" height="14.00" fill="#fff" stroke="#333" stroke-width="0.55"/>
<rect x="261.65" y="159.70" width="2.90" height="3.90" fill="#8a8a8a" stroke="#111" stroke-width="0.6"/>
<rect x="261.65" y="181.20" width="2.90" height="3.40" fill="#999" stroke="#111" stroke-width="0.6"/>
<line x1="260.95" y1="164.80" x2="265.25" y2="164.80" stroke="#333" stroke-width="0.6"/>
<line x1="260.95" y1="180.20" x2="265.25" y2="180.20" stroke="#333" stroke-width="0.6"/>
<line x1="260.95" y1="185.60" x2="265.25" y2="185.60" stroke="#333" stroke-width="0.6"/>
<circle cx="263.10" cy="238.50" r="1.15" fill="none" stroke="#000" stroke-width="0.7"/>
<path d="M261.70,239.9 L264.50,239.9 L265.60,245.6 L260.60,245.6 Z" fill="#ddd" stroke="#111" stroke-width="0.75" />
<line x1="260.90" y1="243.00" x2="265.30" y2="243.00" stroke="#111" stroke-width="0.7"/>
<path d="M260.65,246.2 L260.65,251.6 A2.45,2.7 0 0 0 265.55,251.6 L265.55,246.2 Z" fill="#000" stroke="#000" stroke-width="0.4" />
<path d="M262.05,247.6 L262.05,251.4 A1.05,1.3 0 0 0 264.15,251.4 L264.15,247.6 Z" fill="#fff" stroke="#fff" stroke-width="0.1" />
<rect x="270.55" y="158.50" width="4.30" height="28.90" fill="#f4f4f4" stroke="#222" stroke-width="0.7"/>
<rect x="271.70" y="165.40" width="2.00" height="14.00" fill="#fff" stroke="#333" stroke-width="0.55"/>
<rect x="271.25" y="159.70" width="2.90" height="3.90" fill="#8a8a8a" stroke="#111" stroke-width="0.6"/>
<rect x="271.25" y="181.20" width="2.90" height="3.40" fill="#999" stroke="#111" stroke-width="0.6"/>
<line x1="270.55" y1="164.80" x2="274.85" y2="164.80" stroke="#333" stroke-width="0.6"/>
<line x1="270.55" y1="180.20" x2="274.85" y2="180.20" stroke="#333" stroke-width="0.6"/>
<line x1="270.55" y1="185.60" x2="274.85" y2="185.60" stroke="#333" stroke-width="0.6"/>
<circle cx="272.70" cy="238.50" r="1.15" fill="none" stroke="#000" stroke-width="0.7"/>
<path d="M271.30,239.9 L274.10,239.9 L275.20,245.6 L270.20,245.6 Z" fill="#ddd" stroke="#111" stroke-width="0.75" />
<line x1="270.50" y1="243.00" x2="274.90" y2="243.00" stroke="#111" stroke-width="0.7"/>
<path d="M270.25,246.2 L270.25,251.6 A2.45,2.7 0 0 0 275.15,251.6 L275.15,246.2 Z" fill="#000" stroke="#000" stroke-width="0.4" />
<path d="M271.65,247.6 L271.65,251.4 A1.05,1.3 0 0 0 273.75,251.4 L273.75,247.6 Z" fill="#fff" stroke="#fff" stroke-width="0.1" />
<rect x="280.15" y="158.50" width="4.30" height="28.90" fill="#f4f4f4" stroke="#222" stroke-width="0.7"/>
<rect x="281.30" y="165.40" width="2.00" height="14.00" fill="#fff" stroke="#333" stroke-width="0.55"/>
<rect x="280.85" y="159.70" width="2.90" height="3.90" fill="#8a8a8a" stroke="#111" stroke-width="0.6"/>
<rect x="280.85" y="181.20" width="2.90" height="3.40" fill="#999" stroke="#111" stroke-width="0.6"/>
<line x1="280.15" y1="164.80" x2="284.45" y2="164.80" stroke="#333" stroke-width="0.6"/>
<line x1="280.15" y1="180.20" x2="284.45" y2="180.20" stroke="#333" stroke-width="0.6"/>
<line x1="280.15" y1="185.60" x2="284.45" y2="185.60" stroke="#333" stroke-width="0.6"/>
<circle cx="282.30" cy="238.50" r="1.15" fill="none" stroke="#000" stroke-width="0.7"/>
<path d="M280.90,239.9 L283.70,239.9 L284.80,245.6 L279.80,245.6 Z" fill="#ddd" stroke="#111" stroke-width="0.75" />
<line x1="280.10" y1="243.00" x2="284.50" y2="243.00" stroke="#111" stroke-width="0.7"/>
<path d="M279.85,246.2 L279.85,251.6 A2.45,2.7 0 0 0 284.75,251.6 L284.75,246.2 Z" fill="#000" stroke="#000" stroke-width="0.4" />
<path d="M281.25,247.6 L281.25,251.4 A1.05,1.3 0 0 0 283.35,251.4 L283.35,247.6 Z" fill="#fff" stroke="#fff" stroke-width="0.1" />
<rect x="289.75" y="158.50" width="4.30" height="28.90" fill="#f4f4f4" stroke="#222" stroke-width="0.7"/>
<rect x="290.90" y="165.40" width="2.00" height="14.00" fill="#fff" stroke="#333" stroke-width="0.55"/>
<rect x="290.45" y="159.70" width="2.90" height="3.90" fill="#8a8a8a" stroke="#111" stroke-width="0.6"/>
<rect x="290.45" y="181.20" width="2.90" height="3.40" fill="#999" stroke="#111" stroke-width="0.6"/>
<line x1="289.75" y1="164.80" x2="294.05" y2="164.80" stroke="#333" stroke-width="0.6"/>
<line x1="289.75" y1="180.20" x2="294.05" y2="180.20" stroke="#333" stroke-width="0.6"/>
<line x1="289.75" y1="185.60" x2="294.05" y2="185.60" stroke="#333" stroke-width="0.6"/>
<circle cx="291.90" cy="238.50" r="1.15" fill="none" stroke="#000" stroke-width="0.7"/>
<path d="M290.50,239.9 L293.30,239.9 L294.40,245.6 L289.40,245.6 Z" fill="#ddd" stroke="#111" stroke-width="0.75" />
<line x1="289.70" y1="243.00" x2="294.10" y2="243.00" stroke="#111" stroke-width="0.7"/>
<path d="M289.45,246.2 L289.45,251.6 A2.45,2.7 0 0 0 294.35,251.6 L294.35,246.2 Z" fill="#000" stroke="#000" stroke-width="0.4" />
<path d="M290.85,247.6 L290.85,251.4 A1.05,1.3 0 0 0 292.95,251.4 L292.95,247.6 Z" fill="#fff" stroke="#fff" stroke-width="0.1" />
<rect x="299.35" y="158.50" width="4.30" height="28.90" fill="#f4f4f4" stroke="#222" stroke-width="0.7"/>
<rect x="300.50" y="165.40" width="2.00" height="14.00" fill="#fff" stroke="#333" stroke-width="0.55"/>
<rect x="300.05" y="159.70" width="2.90" height="3.90" fill="#8a8a8a" stroke="#111" stroke-width="0.6"/>
<rect x="300.05" y="181.20" width="2.90" height="3.40" fill="#999" stroke="#111" stroke-width="0.6"/>
<line x1="299.35" y1="164.80" x2="303.65" y2="164.80" stroke="#333" stroke-width="0.6"/>
<line x1="299.35" y1="180.20" x2="303.65" y2="180.20" stroke="#333" stroke-width="0.6"/>
<line x1="299.35" y1="185.60" x2="303.65" y2="185.60" stroke="#333" stroke-width="0.6"/>
<circle cx="301.50" cy="238.50" r="1.15" fill="none" stroke="#000" stroke-width="0.7"/>
<path d="M300.10,239.9 L302.90,239.9 L304.00,245.6 L299.00,245.6 Z" fill="#ddd" stroke="#111" stroke-width="0.75" />
<line x1="299.30" y1="243.00" x2="303.70" y2="243.00" stroke="#111" stroke-width="0.7"/>
<path d="M299.05,246.2 L299.05,251.6 A2.45,2.7 0 0 0 303.95,251.6 L303.95,246.2 Z" fill="#000" stroke="#000" stroke-width="0.4" />
<path d="M300.45,247.6 L300.45,251.4 A1.05,1.3 0 0 0 302.55,251.4 L302.55,247.6 Z" fill="#fff" stroke="#fff" stroke-width="0.1" />
<rect x="308.95" y="158.50" width="4.30" height="28.90" fill="#f4f4f4" stroke="#222" stroke-width="0.7"/>
<rect x="310.10" y="165.40" width="2.00" height="14.00" fill="#fff" stroke="#333" stroke-width="0.55"/>
<rect x="309.65" y="159.70" width="2.90" height="3.90" fill="#8a8a8a" stroke="#111" stroke-width="0.6"/>
<rect x="309.65" y="181.20" width="2.90" height="3.40" fill="#999" stroke="#111" stroke-width="0.6"/>
<line x1="308.95" y1="164.80" x2="313.25" y2="164.80" stroke="#333" stroke-width="0.6"/>
<line x1="308.95" y1="180.20" x2="313.25" y2="180.20" stroke="#333" stroke-width="0.6"/>
<line x1="308.95" y1="185.60" x2="313.25" y2="185.60" stroke="#333" stroke-width="0.6"/>
<circle cx="311.10" cy="238.50" r="1.15" fill="none" stroke="#000" stroke-width="0.7"/>
<path d="M309.70,239.9 L312.50,239.9 L313.60,245.6 L308.60,245.6 Z" fill="#ddd" stroke="#111" stroke-width="0.75" />
<line x1="308.90" y1="243.00" x2="313.30" y2="243.00" stroke="#111" stroke-width="0.7"/>
<path d="M308.65,246.2 L308.65,251.6 A2.45,2.7 0 0 0 313.55,251.6 L313.55,246.2 Z" fill="#000" stroke="#000" stroke-width="0.4" />
<path d="M310.05,247.6 L310.05,251.4 A1.05,1.3 0 0 0 312.15,251.4 L312.15,247.6 Z" fill="#fff" stroke="#fff" stroke-width="0.1" />
<rect x="318.55" y="158.50" width="4.30" height="28.90" fill="#f4f4f4" stroke="#222" stroke-width="0.7"/>
<rect x="319.70" y="165.40" width="2.00" height="14.00" fill="#fff" stroke="#333" stroke-width="0.55"/>
<rect x="319.25" y="159.70" width="2.90" height="3.90" fill="#8a8a8a" stroke="#111" stroke-width="0.6"/>
<rect x="319.25" y="181.20" width="2.90" height="3.40" fill="#999" stroke="#111" stroke-width="0.6"/>
<line x1="318.55" y1="164.80" x2="322.85" y2="164.80" stroke="#333" stroke-width="0.6"/>
<line x1="318.55" y1="180.20" x2="322.85" y2="180.20" stroke="#333" stroke-width="0.6"/>
<line x1="318.55" y1="185.60" x2="322.85" y2="185.60" stroke="#333" stroke-width="0.6"/>
<circle cx="320.70" cy="238.50" r="1.15" fill="none" stroke="#000" stroke-width="0.7"/>
<path d="M319.30,239.9 L322.10,239.9 L323.20,245.6 L318.20,245.6 Z" fill="#ddd" stroke="#111" stroke-width="0.75" />
<line x1="318.50" y1="243.00" x2="322.90" y2="243.00" stroke="#111" stroke-width="0.7"/>
<path d="M318.25,246.2 L318.25,251.6 A2.45,2.7 0 0 0 323.15,251.6 L323.15,246.2 Z" fill="#000" stroke="#000" stroke-width="0.4" />
<path d="M319.65,247.6 L319.65,251.4 A1.05,1.3 0 0 0 321.75,251.4 L321.75,247.6 Z" fill="#fff" stroke="#fff" stroke-width="0.1" />
<rect x="328.15" y="158.50" width="4.30" height="28.90" fill="#f4f4f4" stroke="#222" stroke-width="0.7"/>
<rect x="329.30" y="165.40" width="2.00" height="14.00" fill="#fff" stroke="#333" stroke-width="0.55"/>
<rect x="328.85" y="159.70" width="2.90" height="3.90" fill="#8a8a8a" stroke="#111" stroke-width="0.6"/>
<rect x="328.85" y="181.20" width="2.90" height="3.40" fill="#999" stroke="#111" stroke-width="0.6"/>
<line x1="328.15" y1="164.80" x2="332.45" y2="164.80" stroke="#333" stroke-width="0.6"/>
<line x1="328.15" y1="180.20" x2="332.45" y2="180.20" stroke="#333" stroke-width="0.6"/>
<line x1="328.15" y1="185.60" x2="332.45" y2="185.60" stroke="#333" stroke-width="0.6"/>
<circle cx="330.30" cy="238.50" r="1.15" fill="none" stroke="#000" stroke-width="0.7"/>
<path d="M328.90,239.9 L331.70,239.9 L332.80,245.6 L327.80,245.6 Z" fill="#ddd" stroke="#111" stroke-width="0.75" />
<line x1="328.10" y1="243.00" x2="332.50" y2="243.00" stroke="#111" stroke-width="0.7"/>
<path d="M327.85,246.2 L327.85,251.6 A2.45,2.7 0 0 0 332.75,251.6 L332.75,246.2 Z" fill="#000" stroke="#000" stroke-width="0.4" />
<path d="M329.25,247.6 L329.25,251.4 A1.05,1.3 0 0 0 331.35,251.4 L331.35,247.6 Z" fill="#fff" stroke="#fff" stroke-width="0.1" />
<rect x="337.75" y="158.50" width="4.30" height="28.90" fill="#f4f4f4" stroke="#222" stroke-width="0.7"/>
<rect x="338.90" y="165.40" width="2.00" height="14.00" fill="#fff" stroke="#333" stroke-width="0.55"/>
<rect x="338.45" y="159.70" width="2.90" height="3.90" fill="#8a8a8a" stroke="#111" stroke-width="0.6"/>
<rect x="338.45" y="181.20" width="2.90" height="3.40" fill="#999" stroke="#111" stroke-width="0.6"/>
<line x1="337.75" y1="164.80" x2="342.05" y2="164.80" stroke="#333" stroke-width="0.6"/>
<line x1="337.75" y1="180.20" x2="342.05" y2="180.20" stroke="#333" stroke-width="0.6"/>
<line x1="337.75" y1="185.60" x2="342.05" y2="185.60" stroke="#333" stroke-width="0.6"/>
<circle cx="339.90" cy="238.50" r="1.15" fill="none" stroke="#000" stroke-width="0.7"/>
<path d="M338.50,239.9 L341.30,239.9 L342.40,245.6 L337.40,245.6 Z" fill="#ddd" stroke="#111" stroke-width="0.75" />
<line x1="337.70" y1="243.00" x2="342.10" y2="243.00" stroke="#111" stroke-width="0.7"/>
<path d="M337.45,246.2 L337.45,251.6 A2.45,2.7 0 0 0 342.35,251.6 L342.35,246.2 Z" fill="#000" stroke="#000" stroke-width="0.4" />
<path d="M338.85,247.6 L338.85,251.4 A1.05,1.3 0 0 0 340.95,251.4 L340.95,247.6 Z" fill="#fff" stroke="#fff" stroke-width="0.1" />
<rect x="347.35" y="158.50" width="4.30" height="28.90" fill="#f4f4f4" stroke="#222" stroke-width="0.7"/>
<rect x="348.50" y="165.40" width="2.00" height="14.00" fill="#fff" stroke="#333" stroke-width="0.55"/>
<rect x="348.05" y="159.70" width="2.90" height="3.90" fill="#8a8a8a" stroke="#111" stroke-width="0.6"/>
<rect x="348.05" y="181.20" width="2.90" height="3.40" fill="#999" stroke="#111" stroke-width="0.6"/>
<line x1="347.35" y1="164.80" x2="351.65" y2="164.80" stroke="#333" stroke-width="0.6"/>
<line x1="347.35" y1="180.20" x2="351.65" y2="180.20" stroke="#333" stroke-width="0.6"/>
<line x1="347.35" y1="185.60" x2="351.65" y2="185.60" stroke="#333" stroke-width="0.6"/>
<circle cx="349.50" cy="238.50" r="1.15" fill="none" stroke="#000" stroke-width="0.7"/>
<path d="M348.10,239.9 L350.90,239.9 L352.00,245.6 L347.00,245.6 Z" fill="#ddd" stroke="#111" stroke-width="0.75" />
<line x1="347.30" y1="243.00" x2="351.70" y2="243.00" stroke="#111" stroke-width="0.7"/>
<path d="M347.05,246.2 L347.05,251.6 A2.45,2.7 0 0 0 351.95,251.6 L351.95,246.2 Z" fill="#000" stroke="#000" stroke-width="0.4" />
<path d="M348.45,247.6 L348.45,251.4 A1.05,1.3 0 0 0 350.55,251.4 L350.55,247.6 Z" fill="#fff" stroke="#fff" stroke-width="0.1" />
<rect x="356.95" y="158.50" width="4.30" height="28.90" fill="#f4f4f4" stroke="#222" stroke-width="0.7"/>
<rect x="358.10" y="165.40" width="2.00" height="14.00" fill="#fff" stroke="#333" stroke-width="0.55"/>
<rect x="357.65" y="159.70" width="2.90" height="3.90" fill="#8a8a8a" stroke="#111" stroke-width="0.6"/>
<rect x="357.65" y="181.20" width="2.90" height="3.40" fill="#999" stroke="#111" stroke-width="0.6"/>
<line x1="356.95" y1="164.80" x2="361.25" y2="164.80" stroke="#333" stroke-width="0.6"/>
<line x1="356.95" y1="180.20" x2="361.25" y2="180.20" stroke="#333" stroke-width="0.6"/>
<line x1="356.95" y1="185.60" x2="361.25" y2="185.60" stroke="#333" stroke-width="0.6"/>
<circle cx="359.10" cy="238.50" r="1.15" fill="none" stroke="#000" stroke-width="0.7"/>
<path d="M357.70,239.9 L360.50,239.9 L361.60,245.6 L356.60,245.6 Z" fill="#ddd" stroke="#111" stroke-width="0.75" />
<line x1="356.90" y1="243.00" x2="361.30" y2="243.00" stroke="#111" stroke-width="0.7"/>
<path d="M356.65,246.2 L356.65,251.6 A2.45,2.7 0 0 0 361.55,251.6 L361.55,246.2 Z" fill="#000" stroke="#000" stroke-width="0.4" />
<path d="M358.05,247.6 L358.05,251.4 A1.05,1.3 0 0 0 360.15,251.4 L360.15,247.6 Z" fill="#fff" stroke="#fff" stroke-width="0.1" />
<rect x="366.55" y="158.50" width="4.30" height="28.90" fill="#f4f4f4" stroke="#222" stroke-width="0.7"/>
<rect x="367.70" y="165.40" width="2.00" height="14.00" fill="#fff" stroke="#333" stroke-width="0.55"/>
<rect x="367.25" y="159.70" width="2.90" height="3.90" fill="#8a8a8a" stroke="#111" stroke-width="0.6"/>
<rect x="367.25" y="181.20" width="2.90" height="3.40" fill="#999" stroke="#111" stroke-width="0.6"/>
<line x1="366.55" y1="164.80" x2="370.85" y2="164.80" stroke="#333" stroke-width="0.6"/>
<line x1="366.55" y1="180.20" x2="370.85" y2="180.20" stroke="#333" stroke-width="0.6"/>
<line x1="366.55" y1="185.60" x2="370.85" y2="185.60" stroke="#333" stroke-width="0.6"/>
<circle cx="368.70" cy="238.50" r="1.15" fill="none" stroke="#000" stroke-width="0.7"/>
<path d="M367.30,239.9 L370.10,239.9 L371.20,245.6 L366.20,245.6 Z" fill="#ddd" stroke="#111" stroke-width="0.75" />
<line x1="366.50" y1="243.00" x2="370.90" y2="243.00" stroke="#111" stroke-width="0.7"/>
<path d="M366.25,246.2 L366.25,251.6 A2.45,2.7 0 0 0 371.15,251.6 L371.15,246.2 Z" fill="#000" stroke="#000" stroke-width="0.4" />
<path d="M367.65,247.6 L367.65,251.4 A1.05,1.3 0 0 0 369.75,251.4 L369.75,247.6 Z" fill="#fff" stroke="#fff" stroke-width="0.1" />
<rect x="376.15" y="158.50" width="4.30" height="28.90" fill="#f4f4f4" stroke="#222" stroke-width="0.7"/>
<rect x="377.30" y="165.40" width="2.00" height="14.00" fill="#fff" stroke="#333" stroke-width="0.55"/>
<rect x="376.85" y="159.70" width="2.90" height="3.90" fill="#8a8a8a" stroke="#111" stroke-width="0.6"/>
<rect x="376.85" y="181.20" width="2.90" height="3.40" fill="#999" stroke="#111" stroke-width="0.6"/>
<line x1="376.15" y1="164.80" x2="380.45" y2="164.80" stroke="#333" stroke-width="0.6"/>
<line x1="376.15" y1="180.20" x2="380.45" y2="180.20" stroke="#333" stroke-width="0.6"/>
<line x1="376.15" y1="185.60" x2="380.45" y2="185.60" stroke="#333" stroke-width="0.6"/>
<circle cx="378.30" cy="238.50" r="1.15" fill="none" stroke="#000" stroke-width="0.7"/>
<path d="M376.90,239.9 L379.70,239.9 L380.80,245.6 L375.80,245.6 Z" fill="#ddd" stroke="#111" stroke-width="0.75" />
<line x1="376.10" y1="243.00" x2="380.50" y2="243.00" stroke="#111" stroke-width="0.7"/>
<path d="M375.85,246.2 L375.85,251.6 A2.45,2.7 0 0 0 380.75,251.6 L380.75,246.2 Z" fill="#000" stroke="#000" stroke-width="0.4" />
<path d="M377.25,247.6 L377.25,251.4 A1.05,1.3 0 0 0 379.35,251.4 L379.35,247.6 Z" fill="#fff" stroke="#fff" stroke-width="0.1" />
<rect x="385.75" y="158.50" width="4.30" height="28.90" fill="#f4f4f4" stroke="#222" stroke-width="0.7"/>
<rect x="386.90" y="165.40" width="2.00" height="14.00" fill="#fff" stroke="#333" stroke-width="0.55"/>
<rect x="386.45" y="159.70" width="2.90" height="3.90" fill="#8a8a8a" stroke="#111" stroke-width="0.6"/>
<rect x="386.45" y="181.20" width="2.90" height="3.40" fill="#999" stroke="#111" stroke-width="0.6"/>
<line x1="385.75" y1="164.80" x2="390.05" y2="164.80" stroke="#333" stroke-width="0.6"/>
<line x1="385.75" y1="180.20" x2="390.05" y2="180.20" stroke="#333" stroke-width="0.6"/>
<line x1="385.75" y1="185.60" x2="390.05" y2="185.60" stroke="#333" stroke-width="0.6"/>
<circle cx="387.90" cy="238.50" r="1.15" fill="none" stroke="#000" stroke-width="0.7"/>
<path d="M386.50,239.9 L389.30,239.9 L390.40,245.6 L385.40,245.6 Z" fill="#ddd" stroke="#111" stroke-width="0.75" />
<line x1="385.70" y1="243.00" x2="390.10" y2="243.00" stroke="#111" stroke-width="0.7"/>
<path d="M385.45,246.2 L385.45,251.6 A2.45,2.7 0 0 0 390.35,251.6 L390.35,246.2 Z" fill="#000" stroke="#000" stroke-width="0.4" />
<path d="M386.85,247.6 L386.85,251.4 A1.05,1.3 0 0 0 388.95,251.4 L388.95,247.6 Z" fill="#fff" stroke="#fff" stroke-width="0.1" />
<rect x="395.35" y="158.50" width="4.30" height="28.90" fill="#f4f4f4" stroke="#222" stroke-width="0.7"/>
<rect x="396.50" y="165.40" width="2.00" height="14.00" fill="#fff" stroke="#333" stroke-width="0.55"/>
<rect x="396.05" y="159.70" width="2.90" height="3.90" fill="#8a8a8a" stroke="#111" stroke-width="0.6"/>
<rect x="396.05" y="181.20" width="2.90" height="3.40" fill="#999" stroke="#111" stroke-width="0.6"/>
<line x1="395.35" y1="164.80" x2="399.65" y2="164.80" stroke="#333" stroke-width="0.6"/>
<line x1="395.35" y1="180.20" x2="399.65" y2="180.20" stroke="#333" stroke-width="0.6"/>
<line x1="395.35" y1="185.60" x2="399.65" y2="185.60" stroke="#333" stroke-width="0.6"/>
<circle cx="397.50" cy="238.50" r="1.15" fill="none" stroke="#000" stroke-width="0.7"/>
<path d="M396.10,239.9 L398.90,239.9 L400.00,245.6 L395.00,245.6 Z" fill="#ddd" stroke="#111" stroke-width="0.75" />
<line x1="395.30" y1="243.00" x2="399.70" y2="243.00" stroke="#111" stroke-width="0.7"/>
<path d="M395.05,246.2 L395.05,251.6 A2.45,2.7 0 0 0 399.95,251.6 L399.95,246.2 Z" fill="#000" stroke="#000" stroke-width="0.4" />
<path d="M396.45,247.6 L396.45,251.4 A1.05,1.3 0 0 0 398.55,251.4 L398.55,247.6 Z" fill="#fff" stroke="#fff" stroke-width="0.1" />
<rect x="404.95" y="158.50" width="4.30" height="28.90" fill="#f4f4f4" stroke="#222" stroke-width="0.7"/>
<rect x="406.10" y="165.40" width="2.00" height="14.00" fill="#fff" stroke="#333" stroke-width="0.55"/>
<rect x="405.65" y="159.70" width="2.90" height="3.90" fill="#8a8a8a" stroke="#111" stroke-width="0.6"/>
<rect x="405.65" y="181.20" width="2.90" height="3.40" fill="#999" stroke="#111" stroke-width="0.6"/>
<line x1="404.95" y1="164.80" x2="409.25" y2="164.80" stroke="#333" stroke-width="0.6"/>
<line x1="404.95" y1="180.20" x2="409.25" y2="180.20" stroke="#333" stroke-width="0.6"/>
<line x1="404.95" y1="185.60" x2="409.25" y2="185.60" stroke="#333" stroke-width="0.6"/>
<circle cx="407.10" cy="238.50" r="1.15" fill="none" stroke="#000" stroke-width="0.7"/>
<path d="M405.70,239.9 L408.50,239.9 L409.60,245.6 L404.60,245.6 Z" fill="#ddd" stroke="#111" stroke-width="0.75" />
<line x1="404.90" y1="243.00" x2="409.30" y2="243.00" stroke="#111" stroke-width="0.7"/>
<path d="M404.65,246.2 L404.65,251.6 A2.45,2.7 0 0 0 409.55,251.6 L409.55,246.2 Z" fill="#000" stroke="#000" stroke-width="0.4" />
<path d="M406.05,247.6 L406.05,251.4 A1.05,1.3 0 0 0 408.15,251.4 L408.15,247.6 Z" fill="#fff" stroke="#fff" stroke-width="0.1" />
<rect x="414.55" y="158.50" width="4.30" height="28.90" fill="#f4f4f4" stroke="#222" stroke-width="0.7"/>
<rect x="415.70" y="165.40" width="2.00" height="14.00" fill="#fff" stroke="#333" stroke-width="0.55"/>
<rect x="415.25" y="159.70" width="2.90" height="3.90" fill="#8a8a8a" stroke="#111" stroke-width="0.6"/>
<rect x="415.25" y="181.20" width="2.90" height="3.40" fill="#999" stroke="#111" stroke-width="0.6"/>
<line x1="414.55" y1="164.80" x2="418.85" y2="164.80" stroke="#333" stroke-width="0.6"/>
<line x1="414.55" y1="180.20" x2="418.85" y2="180.20" stroke="#333" stroke-width="0.6"/>
<line x1="414.55" y1="185.60" x2="418.85" y2="185.60" stroke="#333" stroke-width="0.6"/>
<circle cx="416.70" cy="238.50" r="1.15" fill="none" stroke="#000" stroke-width="0.7"/>
<path d="M415.30,239.9 L418.10,239.9 L419.20,245.6 L414.20,245.6 Z" fill="#ddd" stroke="#111" stroke-width="0.75" />
<line x1="414.50" y1="243.00" x2="418.90" y2="243.00" stroke="#111" stroke-width="0.7"/>
<path d="M414.25,246.2 L414.25,251.6 A2.45,2.7 0 0 0 419.15,251.6 L419.15,246.2 Z" fill="#000" stroke="#000" stroke-width="0.4" />
<path d="M415.65,247.6 L415.65,251.4 A1.05,1.3 0 0 0 417.75,251.4 L417.75,247.6 Z" fill="#fff" stroke="#fff" stroke-width="0.1" />
<rect x="424.15" y="158.50" width="4.30" height="28.90" fill="#f4f4f4" stroke="#222" stroke-width="0.7"/>
<rect x="425.30" y="165.40" width="2.00" height="14.00" fill="#fff" stroke="#333" stroke-width="0.55"/>
<rect x="424.85" y="159.70" width="2.90" height="3.90" fill="#8a8a8a" stroke="#111" stroke-width="0.6"/>
<rect x="424.85" y="181.20" width="2.90" height="3.40" fill="#999" stroke="#111" stroke-width="0.6"/>
<line x1="424.15" y1="164.80" x2="428.45" y2="164.80" stroke="#333" stroke-width="0.6"/>
<line x1="424.15" y1="180.20" x2="428.45" y2="180.20" stroke="#333" stroke-width="0.6"/>
<line x1="424.15" y1="185.60" x2="428.45" y2="185.60" stroke="#333" stroke-width="0.6"/>
<circle cx="426.30" cy="238.50" r="1.15" fill="none" stroke="#000" stroke-width="0.7"/>
<path d="M424.90,239.9 L427.70,239.9 L428.80,245.6 L423.80,245.6 Z" fill="#ddd" stroke="#111" stroke-width="0.75" />
<line x1="424.10" y1="243.00" x2="428.50" y2="243.00" stroke="#111" stroke-width="0.7"/>
<path d="M423.85,246.2 L423.85,251.6 A2.45,2.7 0 0 0 428.75,251.6 L428.75,246.2 Z" fill="#000" stroke="#000" stroke-width="0.4" />
<path d="M425.25,247.6 L425.25,251.4 A1.05,1.3 0 0 0 427.35,251.4 L427.35,247.6 Z" fill="#fff" stroke="#fff" stroke-width="0.1" />
<rect x="433.75" y="158.50" width="4.30" height="28.90" fill="#f4f4f4" stroke="#222" stroke-width="0.7"/>
<rect x="434.90" y="165.40" width="2.00" height="14.00" fill="#fff" stroke="#333" stroke-width="0.55"/>
<rect x="434.45" y="159.70" width="2.90" height="3.90" fill="#8a8a8a" stroke="#111" stroke-width="0.6"/>
<rect x="434.45" y="181.20" width="2.90" height="3.40" fill="#999" stroke="#111" stroke-width="0.6"/>
<line x1="433.75" y1="164.80" x2="438.05" y2="164.80" stroke="#333" stroke-width="0.6"/>
<line x1="433.75" y1="180.20" x2="438.05" y2="180.20" stroke="#333" stroke-width="0.6"/>
<line x1="433.75" y1="185.60" x2="438.05" y2="185.60" stroke="#333" stroke-width="0.6"/>
<circle cx="435.90" cy="238.50" r="1.15" fill="none" stroke="#000" stroke-width="0.7"/>
<path d="M434.50,239.9 L437.30,239.9 L438.40,245.6 L433.40,245.6 Z" fill="#ddd" stroke="#111" stroke-width="0.75" />
<line x1="433.70" y1="243.00" x2="438.10" y2="243.00" stroke="#111" stroke-width="0.7"/>
<path d="M433.45,246.2 L433.45,251.6 A2.45,2.7 0 0 0 438.35,251.6 L438.35,246.2 Z" fill="#000" stroke="#000" stroke-width="0.4" />
<path d="M434.85,247.6 L434.85,251.4 A1.05,1.3 0 0 0 436.95,251.4 L436.95,247.6 Z" fill="#fff" stroke="#fff" stroke-width="0.1" />
<rect x="443.35" y="158.50" width="4.30" height="28.90" fill="#f4f4f4" stroke="#222" stroke-width="0.7"/>
<rect x="444.50" y="165.40" width="2.00" height="14.00" fill="#fff" stroke="#333" stroke-width="0.55"/>
<rect x="444.05" y="159.70" width="2.90" height="3.90" fill="#8a8a8a" stroke="#111" stroke-width="0.6"/>
<rect x="444.05" y="181.20" width="2.90" height="3.40" fill="#999" stroke="#111" stroke-width="0.6"/>
<line x1="443.35" y1="164.80" x2="447.65" y2="164.80" stroke="#333" stroke-width="0.6"/>
<line x1="443.35" y1="180.20" x2="447.65" y2="180.20" stroke="#333" stroke-width="0.6"/>
<line x1="443.35" y1="185.60" x2="447.65" y2="185.60" stroke="#333" stroke-width="0.6"/>
<circle cx="445.50" cy="238.50" r="1.15" fill="none" stroke="#000" stroke-width="0.7"/>
<path d="M444.10,239.9 L446.90,239.9 L448.00,245.6 L443.00,245.6 Z" fill="#ddd" stroke="#111" stroke-width="0.75" />
<line x1="443.30" y1="243.00" x2="447.70" y2="243.00" stroke="#111" stroke-width="0.7"/>
<path d="M443.05,246.2 L443.05,251.6 A2.45,2.7 0 0 0 447.95,251.6 L447.95,246.2 Z" fill="#000" stroke="#000" stroke-width="0.4" />
<path d="M444.45,247.6 L444.45,251.4 A1.05,1.3 0 0 0 446.55,251.4 L446.55,247.6 Z" fill="#fff" stroke="#fff" stroke-width="0.1" />
<rect x="452.95" y="158.50" width="4.30" height="28.90" fill="#f4f4f4" stroke="#222" stroke-width="0.7"/>
<rect x="454.10" y="165.40" width="2.00" height="14.00" fill="#fff" stroke="#333" stroke-width="0.55"/>
<rect x="453.65" y="159.70" width="2.90" height="3.90" fill="#8a8a8a" stroke="#111" stroke-width="0.6"/>
<rect x="453.65" y="181.20" width="2.90" height="3.40" fill="#999" stroke="#111" stroke-width="0.6"/>
<line x1="452.95" y1="164.80" x2="457.25" y2="164.80" stroke="#333" stroke-width="0.6"/>
<line x1="452.95" y1="180.20" x2="457.25" y2="180.20" stroke="#333" stroke-width="0.6"/>
<line x1="452.95" y1="185.60" x2="457.25" y2="185.60" stroke="#333" stroke-width="0.6"/>
<circle cx="455.10" cy="238.50" r="1.15" fill="none" stroke="#000" stroke-width="0.7"/>
<path d="M453.70,239.9 L456.50,239.9 L457.60,245.6 L452.60,245.6 Z" fill="#ddd" stroke="#111" stroke-width="0.75" />
<line x1="452.90" y1="243.00" x2="457.30" y2="243.00" stroke="#111" stroke-width="0.7"/>
<path d="M452.65,246.2 L452.65,251.6 A2.45,2.7 0 0 0 457.55,251.6 L457.55,246.2 Z" fill="#000" stroke="#000" stroke-width="0.4" />
<path d="M454.05,247.6 L454.05,251.4 A1.05,1.3 0 0 0 456.15,251.4 L456.15,247.6 Z" fill="#fff" stroke="#fff" stroke-width="0.1" />
<rect x="462.55" y="158.50" width="4.30" height="28.90" fill="#f4f4f4" stroke="#222" stroke-width="0.7"/>
<rect x="463.70" y="165.40" width="2.00" height="14.00" fill="#fff" stroke="#333" stroke-width="0.55"/>
<rect x="463.25" y="159.70" width="2.90" height="3.90" fill="#8a8a8a" stroke="#111" stroke-width="0.6"/>
<rect x="463.25" y="181.20" width="2.90" height="3.40" fill="#999" stroke="#111" stroke-width="0.6"/>
<line x1="462.55" y1="164.80" x2="466.85" y2="164.80" stroke="#333" stroke-width="0.6"/>
<line x1="462.55" y1="180.20" x2="466.85" y2="180.20" stroke="#333" stroke-width="0.6"/>
<line x1="462.55" y1="185.60" x2="466.85" y2="185.60" stroke="#333" stroke-width="0.6"/>
<circle cx="464.70" cy="238.50" r="1.15" fill="none" stroke="#000" stroke-width="0.7"/>
<path d="M463.30,239.9 L466.10,239.9 L467.20,245.6 L462.20,245.6 Z" fill="#ddd" stroke="#111" stroke-width="0.75" />
<line x1="462.50" y1="243.00" x2="466.90" y2="243.00" stroke="#111" stroke-width="0.7"/>
<path d="M462.25,246.2 L462.25,251.6 A2.45,2.7 0 0 0 467.15,251.6 L467.15,246.2 Z" fill="#000" stroke="#000" stroke-width="0.4" />
<path d="M463.65,247.6 L463.65,251.4 A1.05,1.3 0 0 0 465.75,251.4 L465.75,247.6 Z" fill="#fff" stroke="#fff" stroke-width="0.1" />
<rect x="472.15" y="158.50" width="4.30" height="28.90" fill="#f4f4f4" stroke="#222" stroke-width="0.7"/>
<rect x="473.30" y="165.40" width="2.00" height="14.00" fill="#fff" stroke="#333" stroke-width="0.55"/>
<rect x="472.85" y="159.70" width="2.90" height="3.90" fill="#8a8a8a" stroke="#111" stroke-width="0.6"/>
<rect x="472.85" y="181.20" width="2.90" height="3.40" fill="#999" stroke="#111" stroke-width="0.6"/>
<line x1="472.15" y1="164.80" x2="476.45" y2="164.80" stroke="#333" stroke-width="0.6"/>
<line x1="472.15" y1="180.20" x2="476.45" y2="180.20" stroke="#333" stroke-width="0.6"/>
<line x1="472.15" y1="185.60" x2="476.45" y2="185.60" stroke="#333" stroke-width="0.6"/>
<circle cx="474.30" cy="238.50" r="1.15" fill="none" stroke="#000" stroke-width="0.7"/>
<path d="M472.90,239.9 L475.70,239.9 L476.80,245.6 L471.80,245.6 Z" fill="#ddd" stroke="#111" stroke-width="0.75" />
<line x1="472.10" y1="243.00" x2="476.50" y2="243.00" stroke="#111" stroke-width="0.7"/>
<path d="M471.85,246.2 L471.85,251.6 A2.45,2.7 0 0 0 476.75,251.6 L476.75,246.2 Z" fill="#000" stroke="#000" stroke-width="0.4" />
<path d="M473.25,247.6 L473.25,251.4 A1.05,1.3 0 0 0 475.35,251.4 L475.35,247.6 Z" fill="#fff" stroke="#fff" stroke-width="0.1" />
<rect x="481.75" y="158.50" width="4.30" height="28.90" fill="#f4f4f4" stroke="#222" stroke-width="0.7"/>
<rect x="482.90" y="165.40" width="2.00" height="14.00" fill="#fff" stroke="#333" stroke-width="0.55"/>
<rect x="482.45" y="159.70" width="2.90" height="3.90" fill="#8a8a8a" stroke="#111" stroke-width="0.6"/>
<rect x="482.45" y="181.20" width="2.90" height="3.40" fill="#999" stroke="#111" stroke-width="0.6"/>
<line x1="481.75" y1="164.80" x2="486.05" y2="164.80" stroke="#333" stroke-width="0.6"/>
<line x1="481.75" y1="180.20" x2="486.05" y2="180.20" stroke="#333" stroke-width="0.6"/>
<line x1="481.75" y1="185.60" x2="486.05" y2="185.60" stroke="#333" stroke-width="0.6"/>
<circle cx="483.90" cy="238.50" r="1.15" fill="none" stroke="#000" stroke-width="0.7"/>
<path d="M482.50,239.9 L485.30,239.9 L486.40,245.6 L481.40,245.6 Z" fill="#ddd" stroke="#111" stroke-width="0.75" />
<line x1="481.70" y1="243.00" x2="486.10" y2="243.00" stroke="#111" stroke-width="0.7"/>
<path d="M481.45,246.2 L481.45,251.6 A2.45,2.7 0 0 0 486.35,251.6 L486.35,246.2 Z" fill="#000" stroke="#000" stroke-width="0.4" />
<path d="M482.85,247.6 L482.85,251.4 A1.05,1.3 0 0 0 484.95,251.4 L484.95,247.6 Z" fill="#fff" stroke="#fff" stroke-width="0.1" />
<rect x="491.35" y="158.50" width="4.30" height="28.90" fill="#f4f4f4" stroke="#222" stroke-width="0.7"/>
<rect x="492.50" y="165.40" width="2.00" height="14.00" fill="#fff" stroke="#333" stroke-width="0.55"/>
<rect x="492.05" y="159.70" width="2.90" height="3.90" fill="#8a8a8a" stroke="#111" stroke-width="0.6"/>
<rect x="492.05" y="181.20" width="2.90" height="3.40" fill="#999" stroke="#111" stroke-width="0.6"/>
<line x1="491.35" y1="164.80" x2="495.65" y2="164.80" stroke="#333" stroke-width="0.6"/>
<line x1="491.35" y1="180.20" x2="495.65" y2="180.20" stroke="#333" stroke-width="0.6"/>
<line x1="491.35" y1="185.60" x2="495.65" y2="185.60" stroke="#333" stroke-width="0.6"/>
<circle cx="493.50" cy="238.50" r="1.15" fill="none" stroke="#000" stroke-width="0.7"/>
<path d="M492.10,239.9 L494.90,239.9 L496.00,245.6 L491.00,245.6 Z" fill="#ddd" stroke="#111" stroke-width="0.75" />
<line x1="491.30" y1="243.00" x2="495.70" y2="243.00" stroke="#111" stroke-width="0.7"/>
<path d="M491.05,246.2 L491.05,251.6 A2.45,2.7 0 0 0 495.95,251.6 L495.95,246.2 Z" fill="#000" stroke="#000" stroke-width="0.4" />
<path d="M492.45,247.6 L492.45,251.4 A1.05,1.3 0 0 0 494.55,251.4 L494.55,247.6 Z" fill="#fff" stroke="#fff" stroke-width="0.1" />
<rect x="500.95" y="158.50" width="4.30" height="28.90" fill="#f4f4f4" stroke="#222" stroke-width="0.7"/>
<rect x="502.10" y="165.40" width="2.00" height="14.00" fill="#fff" stroke="#333" stroke-width="0.55"/>
<rect x="501.65" y="159.70" width="2.90" height="3.90" fill="#8a8a8a" stroke="#111" stroke-width="0.6"/>
<rect x="501.65" y="181.20" width="2.90" height="3.40" fill="#999" stroke="#111" stroke-width="0.6"/>
<line x1="500.95" y1="164.80" x2="505.25" y2="164.80" stroke="#333" stroke-width="0.6"/>
<line x1="500.95" y1="180.20" x2="505.25" y2="180.20" stroke="#333" stroke-width="0.6"/>
<line x1="500.95" y1="185.60" x2="505.25" y2="185.60" stroke="#333" stroke-width="0.6"/>
<circle cx="503.10" cy="238.50" r="1.15" fill="none" stroke="#000" stroke-width="0.7"/>
<path d="M501.70,239.9 L504.50,239.9 L505.60,245.6 L500.60,245.6 Z" fill="#ddd" stroke="#111" stroke-width="0.75" />
<line x1="500.90" y1="243.00" x2="505.30" y2="243.00" stroke="#111" stroke-width="0.7"/>
<path d="M500.65,246.2 L500.65,251.6 A2.45,2.7 0 0 0 505.55,251.6 L505.55,246.2 Z" fill="#000" stroke="#000" stroke-width="0.4" />
<path d="M502.05,247.6 L502.05,251.4 A1.05,1.3 0 0 0 504.15,251.4 L504.15,247.6 Z" fill="#fff" stroke="#fff" stroke-width="0.1" />
<rect x="510.55" y="158.50" width="4.30" height="28.90" fill="#f4f4f4" stroke="#222" stroke-width="0.7"/>
<rect x="511.70" y="165.40" width="2.00" height="14.00" fill="#fff" stroke="#333" stroke-width="0.55"/>
<rect x="511.25" y="159.70" width="2.90" height="3.90" fill="#8a8a8a" stroke="#111" stroke-width="0.6"/>
<rect x="511.25" y="181.20" width="2.90" height="3.40" fill="#999" stroke="#111" stroke-width="0.6"/>
<line x1="510.55" y1="164.80" x2="514.85" y2="164.80" stroke="#333" stroke-width="0.6"/>
<line x1="510.55" y1="180.20" x2="514.85" y2="180.20" stroke="#333" stroke-width="0.6"/>
<line x1="510.55" y1="185.60" x2="514.85" y2="185.60" stroke="#333" stroke-width="0.6"/>
<circle cx="512.70" cy="238.50" r="1.15" fill="none" stroke="#000" stroke-width="0.7"/>
<path d="M511.30,239.9 L514.10,239.9 L515.20,245.6 L510.20,245.6 Z" fill="#ddd" stroke="#111" stroke-width="0.75" />
<line x1="510.50" y1="243.00" x2="514.90" y2="243.00" stroke="#111" stroke-width="0.7"/>
<path d="M510.25,246.2 L510.25,251.6 A2.45,2.7 0 0 0 515.15,251.6 L515.15,246.2 Z" fill="#000" stroke="#000" stroke-width="0.4" />
<path d="M511.65,247.6 L511.65,251.4 A1.05,1.3 0 0 0 513.75,251.4 L513.75,247.6 Z" fill="#fff" stroke="#fff" stroke-width="0.1" />
<rect x="520.15" y="158.50" width="4.30" height="28.90" fill="#f4f4f4" stroke="#222" stroke-width="0.7"/>
<rect x="521.30" y="165.40" width="2.00" height="14.00" fill="#fff" stroke="#333" stroke-width="0.55"/>
<rect x="520.85" y="159.70" width="2.90" height="3.90" fill="#8a8a8a" stroke="#111" stroke-width="0.6"/>
<rect x="520.85" y="181.20" width="2.90" height="3.40" fill="#999" stroke="#111" stroke-width="0.6"/>
<line x1="520.15" y1="164.80" x2="524.45" y2="164.80" stroke="#333" stroke-width="0.6"/>
<line x1="520.15" y1="180.20" x2="524.45" y2="180.20" stroke="#333" stroke-width="0.6"/>
<line x1="520.15" y1="185.60" x2="524.45" y2="185.60" stroke="#333" stroke-width="0.6"/>
<circle cx="522.30" cy="238.50" r="1.15" fill="none" stroke="#000" stroke-width="0.7"/>
<path d="M520.90,239.9 L523.70,239.9 L524.80,245.6 L519.80,245.6 Z" fill="#ddd" stroke="#111" stroke-width="0.75" />
<line x1="520.10" y1="243.00" x2="524.50" y2="243.00" stroke="#111" stroke-width="0.7"/>
<path d="M519.85,246.2 L519.85,251.6 A2.45,2.7 0 0 0 524.75,251.6 L524.75,246.2 Z" fill="#000" stroke="#000" stroke-width="0.4" />
<path d="M521.25,247.6 L521.25,251.4 A1.05,1.3 0 0 0 523.35,251.4 L523.35,247.6 Z" fill="#fff" stroke="#fff" stroke-width="0.1" />
<rect x="529.75" y="158.50" width="4.30" height="28.90" fill="#f4f4f4" stroke="#222" stroke-width="0.7"/>
<rect x="530.90" y="165.40" width="2.00" height="14.00" fill="#fff" stroke="#333" stroke-width="0.55"/>
<rect x="530.45" y="159.70" width="2.90" height="3.90" fill="#8a8a8a" stroke="#111" stroke-width="0.6"/>
<rect x="530.45" y="181.20" width="2.90" height="3.40" fill="#999" stroke="#111" stroke-width="0.6"/>
<line x1="529.75" y1="164.80" x2="534.05" y2="164.80" stroke="#333" stroke-width="0.6"/>
<line x1="529.75" y1="180.20" x2="534.05" y2="180.20" stroke="#333" stroke-width="0.6"/>
<line x1="529.75" y1="185.60" x2="534.05" y2="185.60" stroke="#333" stroke-width="0.6"/>
<circle cx="531.90" cy="238.50" r="1.15" fill="none" stroke="#000" stroke-width="0.7"/>
<path d="M530.50,239.9 L533.30,239.9 L534.40,245.6 L529.40,245.6 Z" fill="#ddd" stroke="#111" stroke-width="0.75" />
<line x1="529.70" y1="243.00" x2="534.10" y2="243.00" stroke="#111" stroke-width="0.7"/>
<path d="M529.45,246.2 L529.45,251.6 A2.45,2.7 0 0 0 534.35,251.6 L534.35,246.2 Z" fill="#000" stroke="#000" stroke-width="0.4" />
<path d="M530.85,247.6 L530.85,251.4 A1.05,1.3 0 0 0 532.95,251.4 L532.95,247.6 Z" fill="#fff" stroke="#fff" stroke-width="0.1" />
<rect x="539.35" y="158.50" width="4.30" height="28.90" fill="#f4f4f4" stroke="#222" stroke-width="0.7"/>
<rect x="540.50" y="165.40" width="2.00" height="14.00" fill="#fff" stroke="#333" stroke-width="0.55"/>
<rect x="540.05" y="159.70" width="2.90" height="3.90" fill="#8a8a8a" stroke="#111" stroke-width="0.6"/>
<rect x="540.05" y="181.20" width="2.90" height="3.40" fill="#999" stroke="#111" stroke-width="0.6"/>
<line x1="539.35" y1="164.80" x2="543.65" y2="164.80" stroke="#333" stroke-width="0.6"/>
<line x1="539.35" y1="180.20" x2="543.65" y2="180.20" stroke="#333" stroke-width="0.6"/>
<line x1="539.35" y1="185.60" x2="543.65" y2="185.60" stroke="#333" stroke-width="0.6"/>
<circle cx="541.50" cy="238.50" r="1.15" fill="none" stroke="#000" stroke-width="0.7"/>
<path d="M540.10,239.9 L542.90,239.9 L544.00,245.6 L539.00,245.6 Z" fill="#ddd" stroke="#111" stroke-width="0.75" />
<line x1="539.30" y1="243.00" x2="543.70" y2="243.00" stroke="#111" stroke-width="0.7"/>
<path d="M539.05,246.2 L539.05,251.6 A2.45,2.7 0 0 0 543.95,251.6 L543.95,246.2 Z" fill="#000" stroke="#000" stroke-width="0.4" />
<path d="M540.45,247.6 L540.45,251.4 A1.05,1.3 0 0 0 542.55,251.4 L542.55,247.6 Z" fill="#fff" stroke="#fff" stroke-width="0.1" />
<rect x="548.95" y="158.50" width="4.30" height="28.90" fill="#f4f4f4" stroke="#222" stroke-width="0.7"/>
<rect x="550.10" y="165.40" width="2.00" height="14.00" fill="#fff" stroke="#333" stroke-width="0.55"/>
<rect x="549.65" y="159.70" width="2.90" height="3.90" fill="#8a8a8a" stroke="#111" stroke-width="0.6"/>
<rect x="549.65" y="181.20" width="2.90" height="3.40" fill="#999" stroke="#111" stroke-width="0.6"/>
<line x1="548.95" y1="164.80" x2="553.25" y2="164.80" stroke="#333" stroke-width="0.6"/>
<line x1="548.95" y1="180.20" x2="553.25" y2="180.20" stroke="#333" stroke-width="0.6"/>
<line x1="548.95" y1="185.60" x2="553.25" y2="185.60" stroke="#333" stroke-width="0.6"/>
<circle cx="551.10" cy="238.50" r="1.15" fill="none" stroke="#000" stroke-width="0.7"/>
<path d="M549.70,239.9 L552.50,239.9 L553.60,245.6 L548.60,245.6 Z" fill="#ddd" stroke="#111" stroke-width="0.75" />
<line x1="548.90" y1="243.00" x2="553.30" y2="243.00" stroke="#111" stroke-width="0.7"/>
<path d="M548.65,246.2 L548.65,251.6 A2.45,2.7 0 0 0 553.55,251.6 L553.55,246.2 Z" fill="#000" stroke="#000" stroke-width="0.4" />
<path d="M550.05,247.6 L550.05,251.4 A1.05,1.3 0 0 0 552.15,251.4 L552.15,247.6 Z" fill="#fff" stroke="#fff" stroke-width="0.1" />
<rect x="558.55" y="158.50" width="4.30" height="28.90" fill="#f4f4f4" stroke="#222" stroke-width="0.7"/>
<rect x="559.70" y="165.40" width="2.00" height="14.00" fill="#fff" stroke="#333" stroke-width="0.55"/>
<rect x="559.25" y="159.70" width="2.90" height="3.90" fill="#8a8a8a" stroke="#111" stroke-width="0.6"/>
<rect x="559.25" y="181.20" width="2.90" height="3.40" fill="#999" stroke="#111" stroke-width="0.6"/>
<line x1="558.55" y1="164.80" x2="562.85" y2="164.80" stroke="#333" stroke-width="0.6"/>
<line x1="558.55" y1="180.20" x2="562.85" y2="180.20" stroke="#333" stroke-width="0.6"/>
<line x1="558.55" y1="185.60" x2="562.85" y2="185.60" stroke="#333" stroke-width="0.6"/>
<circle cx="560.70" cy="238.50" r="1.15" fill="none" stroke="#000" stroke-width="0.7"/>
<path d="M559.30,239.9 L562.10,239.9 L563.20,245.6 L558.20,245.6 Z" fill="#ddd" stroke="#111" stroke-width="0.75" />
<line x1="558.50" y1="243.00" x2="562.90" y2="243.00" stroke="#111" stroke-width="0.7"/>
<path d="M558.25,246.2 L558.25,251.6 A2.45,2.7 0 0 0 563.15,251.6 L563.15,246.2 Z" fill="#000" stroke="#000" stroke-width="0.4" />
<path d="M559.65,247.6 L559.65,251.4 A1.05,1.3 0 0 0 561.75,251.4 L561.75,247.6 Z" fill="#fff" stroke="#fff" stroke-width="0.1" />
<rect x="568.15" y="158.50" width="4.30" height="28.90" fill="#f4f4f4" stroke="#222" stroke-width="0.7"/>
<rect x="569.30" y="165.40" width="2.00" height="14.00" fill="#fff" stroke="#333" stroke-width="0.55"/>
<rect x="568.85" y="159.70" width="2.90" height="3.90" fill="#8a8a8a" stroke="#111" stroke-width="0.6"/>
<rect x="568.85" y="181.20" width="2.90" height="3.40" fill="#999" stroke="#111" stroke-width="0.6"/>
<line x1="568.15" y1="164.80" x2="572.45" y2="164.80" stroke="#333" stroke-width="0.6"/>
<line x1="568.15" y1="180.20" x2="572.45" y2="180.20" stroke="#333" stroke-width="0.6"/>
<line x1="568.15" y1="185.60" x2="572.45" y2="185.60" stroke="#333" stroke-width="0.6"/>
<circle cx="570.30" cy="238.50" r="1.15" fill="none" stroke="#000" stroke-width="0.7"/>
<path d="M568.90,239.9 L571.70,239.9 L572.80,245.6 L567.80,245.6 Z" fill="#ddd" stroke="#111" stroke-width="0.75" />
<line x1="568.10" y1="243.00" x2="572.50" y2="243.00" stroke="#111" stroke-width="0.7"/>
<path d="M567.85,246.2 L567.85,251.6 A2.45,2.7 0 0 0 572.75,251.6 L572.75,246.2 Z" fill="#000" stroke="#000" stroke-width="0.4" />
<path d="M569.25,247.6 L569.25,251.4 A1.05,1.3 0 0 0 571.35,251.4 L571.35,247.6 Z" fill="#fff" stroke="#fff" stroke-width="0.1" />
<rect x="577.75" y="158.50" width="4.30" height="28.90" fill="#f4f4f4" stroke="#222" stroke-width="0.7"/>
<rect x="578.90" y="165.40" width="2.00" height="14.00" fill="#fff" stroke="#333" stroke-width="0.55"/>
<rect x="578.45" y="159.70" width="2.90" height="3.90" fill="#8a8a8a" stroke="#111" stroke-width="0.6"/>
<rect x="578.45" y="181.20" width="2.90" height="3.40" fill="#999" stroke="#111" stroke-width="0.6"/>
<line x1="577.75" y1="164.80" x2="582.05" y2="164.80" stroke="#333" stroke-width="0.6"/>
<line x1="577.75" y1="180.20" x2="582.05" y2="180.20" stroke="#333" stroke-width="0.6"/>
<line x1="577.75" y1="185.60" x2="582.05" y2="185.60" stroke="#333" stroke-width="0.6"/>
<circle cx="579.90" cy="238.50" r="1.15" fill="none" stroke="#000" stroke-width="0.7"/>
<path d="M578.50,239.9 L581.30,239.9 L582.40,245.6 L577.40,245.6 Z" fill="#ddd" stroke="#111" stroke-width="0.75" />
<line x1="577.70" y1="243.00" x2="582.10" y2="243.00" stroke="#111" stroke-width="0.7"/>
<path d="M577.45,246.2 L577.45,251.6 A2.45,2.7 0 0 0 582.35,251.6 L582.35,246.2 Z" fill="#000" stroke="#000" stroke-width="0.4" />
<path d="M578.85,247.6 L578.85,251.4 A1.05,1.3 0 0 0 580.95,251.4 L580.95,247.6 Z" fill="#fff" stroke="#fff" stroke-width="0.1" />
<rect x="587.35" y="158.50" width="4.30" height="28.90" fill="#f4f4f4" stroke="#222" stroke-width="0.7"/>
<rect x="588.50" y="165.40" width="2.00" height="14.00" fill="#fff" stroke="#333" stroke-width="0.55"/>
<rect x="588.05" y="159.70" width="2.90" height="3.90" fill="#8a8a8a" stroke="#111" stroke-width="0.6"/>
<rect x="588.05" y="181.20" width="2.90" height="3.40" fill="#999" stroke="#111" stroke-width="0.6"/>
<line x1="587.35" y1="164.80" x2="591.65" y2="164.80" stroke="#333" stroke-width="0.6"/>
<line x1="587.35" y1="180.20" x2="591.65" y2="180.20" stroke="#333" stroke-width="0.6"/>
<line x1="587.35" y1="185.60" x2="591.65" y2="185.60" stroke="#333" stroke-width="0.6"/>
<circle cx="589.50" cy="238.50" r="1.15" fill="none" stroke="#000" stroke-width="0.7"/>
<path d="M588.10,239.9 L590.90,239.9 L592.00,245.6 L587.00,245.6 Z" fill="#ddd" stroke="#111" stroke-width="0.75" />
<line x1="587.30" y1="243.00" x2="591.70" y2="243.00" stroke="#111" stroke-width="0.7"/>
<path d="M587.05,246.2 L587.05,251.6 A2.45,2.7 0 0 0 591.95,251.6 L591.95,246.2 Z" fill="#000" stroke="#000" stroke-width="0.4" />
<path d="M588.45,247.6 L588.45,251.4 A1.05,1.3 0 0 0 590.55,251.4 L590.55,247.6 Z" fill="#fff" stroke="#fff" stroke-width="0.1" />
<rect x="596.95" y="158.50" width="4.30" height="28.90" fill="#f4f4f4" stroke="#222" stroke-width="0.7"/>
<rect x="598.10" y="165.40" width="2.00" height="14.00" fill="#fff" stroke="#333" stroke-width="0.55"/>
<rect x="597.65" y="159.70" width="2.90" height="3.90" fill="#8a8a8a" stroke="#111" stroke-width="0.6"/>
<rect x="597.65" y="181.20" width="2.90" height="3.40" fill="#999" stroke="#111" stroke-width="0.6"/>
<line x1="596.95" y1="164.80" x2="601.25" y2="164.80" stroke="#333" stroke-width="0.6"/>
<line x1="596.95" y1="180.20" x2="601.25" y2="180.20" stroke="#333" stroke-width="0.6"/>
<line x1="596.95" y1="185.60" x2="601.25" y2="185.60" stroke="#333" stroke-width="0.6"/>
<circle cx="599.10" cy="238.50" r="1.15" fill="none" stroke="#000" stroke-width="0.7"/>
<path d="M597.70,239.9 L600.50,239.9 L601.60,245.6 L596.60,245.6 Z" fill="#ddd" stroke="#111" stroke-width="0.75" />
<line x1="596.90" y1="243.00" x2="601.30" y2="243.00" stroke="#111" stroke-width="0.7"/>
<path d="M596.65,246.2 L596.65,251.6 A2.45,2.7 0 0 0 601.55,251.6 L601.55,246.2 Z" fill="#000" stroke="#000" stroke-width="0.4" />
<path d="M598.05,247.6 L598.05,251.4 A1.05,1.3 0 0 0 600.15,251.4 L600.15,247.6 Z" fill="#fff" stroke="#fff" stroke-width="0.1" />
<rect x="606.55" y="158.50" width="4.30" height="28.90" fill="#f4f4f4" stroke="#222" stroke-width="0.7"/>
<rect x="607.70" y="165.40" width="2.00" height="14.00" fill="#fff" stroke="#333" stroke-width="0.55"/>
<rect x="607.25" y="159.70" width="2.90" height="3.90" fill="#8a8a8a" stroke="#111" stroke-width="0.6"/>
<rect x="607.25" y="181.20" width="2.90" height="3.40" fill="#999" stroke="#111" stroke-width="0.6"/>
<line x1="606.55" y1="164.80" x2="610.85" y2="164.80" stroke="#333" stroke-width="0.6"/>
<line x1="606.55" y1="180.20" x2="610.85" y2="180.20" stroke="#333" stroke-width="0.6"/>
<line x1="606.55" y1="185.60" x2="610.85" y2="185.60" stroke="#333" stroke-width="0.6"/>
<circle cx="608.70" cy="238.50" r="1.15" fill="none" stroke="#000" stroke-width="0.7"/>
<path d="M607.30,239.9 L610.10,239.9 L611.20,245.6 L606.20,245.6 Z" fill="#ddd" stroke="#111" stroke-width="0.75" />
<line x1="606.50" y1="243.00" x2="610.90" y2="243.00" stroke="#111" stroke-width="0.7"/>
<path d="M606.25,246.2 L606.25,251.6 A2.45,2.7 0 0 0 611.15,251.6 L611.15,246.2 Z" fill="#000" stroke="#000" stroke-width="0.4" />
<path d="M607.65,247.6 L607.65,251.4 A1.05,1.3 0 0 0 609.75,251.4 L609.75,247.6 Z" fill="#fff" stroke="#fff" stroke-width="0.1" />
<rect x="616.15" y="158.50" width="4.30" height="28.90" fill="#f4f4f4" stroke="#222" stroke-width="0.7"/>
<rect x="617.30" y="165.40" width="2.00" height="14.00" fill="#fff" stroke="#333" stroke-width="0.55"/>
<rect x="616.85" y="159.70" width="2.90" height="3.90" fill="#8a8a8a" stroke="#111" stroke-width="0.6"/>
<rect x="616.85" y="181.20" width="2.90" height="3.40" fill="#999" stroke="#111" stroke-width="0.6"/>
<line x1="616.15" y1="164.80" x2="620.45" y2="164.80" stroke="#333" stroke-width="0.6"/>
<line x1="616.15" y1="180.20" x2="620.45" y2="180.20" stroke="#333" stroke-width="0.6"/>
<line x1="616.15" y1="185.60" x2="620.45" y2="185.60" stroke="#333" stroke-width="0.6"/>
<circle cx="618.30" cy="238.50" r="1.15" fill="none" stroke="#000" stroke-width="0.7"/>
<path d="M616.90,239.9 L619.70,239.9 L620.80,245.6 L615.80,245.6 Z" fill="#ddd" stroke="#111" stroke-width="0.75" />
<line x1="616.10" y1="243.00" x2="620.50" y2="243.00" stroke="#111" stroke-width="0.7"/>
<path d="M615.85,246.2 L615.85,251.6 A2.45,2.7 0 0 0 620.75,251.6 L620.75,246.2 Z" fill="#000" stroke="#000" stroke-width="0.4" />
<path d="M617.25,247.6 L617.25,251.4 A1.05,1.3 0 0 0 619.35,251.4 L619.35,247.6 Z" fill="#fff" stroke="#fff" stroke-width="0.1" />
<rect x="625.75" y="158.50" width="4.30" height="28.90" fill="#f4f4f4" stroke="#222" stroke-width="0.7"/>
<rect x="626.90" y="165.40" width="2.00" height="14.00" fill="#fff" stroke="#333" stroke-width="0.55"/>
<rect x="626.45" y="159.70" width="2.90" height="3.90" fill="#8a8a8a" stroke="#111" stroke-width="0.6"/>
<rect x="626.45" y="181.20" width="2.90" height="3.40" fill="#999" stroke="#111" stroke-width="0.6"/>
<line x1="625.75" y1="164.80" x2="630.05" y2="164.80" stroke="#333" stroke-width="0.6"/>
<line x1="625.75" y1="180.20" x2="630.05" y2="180.20" stroke="#333" stroke-width="0.6"/>
<line x1="625.75" y1="185.60" x2="630.05" y2="185.60" stroke="#333" stroke-width="0.6"/>
<circle cx="627.90" cy="238.50" r="1.15" fill="none" stroke="#000" stroke-width="0.7"/>
<path d="M626.50,239.9 L629.30,239.9 L630.40,245.6 L625.40,245.6 Z" fill="#ddd" stroke="#111" stroke-width="0.75" />
<line x1="625.70" y1="243.00" x2="630.10" y2="243.00" stroke="#111" stroke-width="0.7"/>
<path d="M625.45,246.2 L625.45,251.6 A2.45,2.7 0 0 0 630.35,251.6 L630.35,246.2 Z" fill="#000" stroke="#000" stroke-width="0.4" />
<path d="M626.85,247.6 L626.85,251.4 A1.05,1.3 0 0 0 628.95,251.4 L628.95,247.6 Z" fill="#fff" stroke="#fff" stroke-width="0.1" />
<line x1="632.70" y1="133.30" x2="632.70" y2="142.30" stroke="#000" stroke-width="0.9"/>
<line x1="672.70" y1="133.30" x2="672.70" y2="142.30" stroke="#000" stroke-width="0.9"/>
<line x1="632.70" y1="135.40" x2="672.70" y2="135.40" stroke="#000" stroke-width="1.2"/>
<polygon points="632.70,135.40 639.20,134.00 639.20,136.80" fill="#000"/>
<polygon points="672.70,135.40 666.20,136.80 666.20,134.00" fill="#000"/>
<text x="652.30" y="133.30" class="l" font-size="10.3" text-anchor="middle" fill="#000" textLength="15.80" lengthAdjust="spacingAndGlyphs">210</text>
<line x1="672.70" y1="142.30" x2="672.70" y2="188.40" stroke="#000" stroke-width="0.9"/>
<line x1="672.70" y1="214.60" x2="672.70" y2="260.60" stroke="#000" stroke-width="0.9"/>
<line x1="672.70" y1="142.30" x2="706.50" y2="142.30" stroke="#000" stroke-width="0.9"/>
<line x1="672.70" y1="146.30" x2="680.00" y2="146.30" stroke="#000" stroke-width="0.9"/>
<line x1="680.30" y1="142.30" x2="680.30" y2="188.40" stroke="#000" stroke-width="0.9"/>
<line x1="681.80" y1="142.30" x2="681.80" y2="188.40" stroke="#000" stroke-width="0.9"/>
<line x1="706.30" y1="142.30" x2="706.30" y2="188.40" stroke="#000" stroke-width="1.5"/>
<line x1="682.00" y1="142.90" x2="706.30" y2="142.90" stroke="#000" stroke-width="1.2"/>
<rect x="682.30" y="163.00" width="23.70" height="6.70" fill="none" stroke="#000" stroke-width="1.0"/>
<line x1="682.00" y1="170.20" x2="706.30" y2="170.20" stroke="#000" stroke-width="1.2"/>
<circle cx="683.90" cy="166.30" r="1.20" fill="none" stroke="#000" stroke-width="0.8"/>
<circle cx="702.40" cy="166.30" r="1.20" fill="none" stroke="#000" stroke-width="0.8"/>
<path d="M688,187.6 A4,4.2 0 0 1 696,187.6" fill="none" stroke="#000" stroke-width="0.9" />
<path d="M689.8,187.6 A2.2,2.4 0 0 1 694.2,187.6" fill="none" stroke="#000" stroke-width="0.9" />
<line x1="682.00" y1="186.60" x2="688.00" y2="186.60" stroke="#000" stroke-width="0.9"/>
<line x1="696.00" y1="186.60" x2="706.00" y2="186.60" stroke="#000" stroke-width="0.9"/>
<path d="M692.7,140.5 L692.7,131 A1.3,1.3 0 0 1 695.3,131 L695.3,140.5" fill="#bbb" stroke="#000" stroke-width="0.9" />
<rect x="690.80" y="140.50" width="6.40" height="1.80" fill="none" stroke="#000" stroke-width="0.9"/>
<line x1="680.30" y1="214.60" x2="680.30" y2="260.60" stroke="#000" stroke-width="0.9"/>
<line x1="681.80" y1="214.60" x2="681.80" y2="260.60" stroke="#000" stroke-width="0.9"/>
<line x1="706.30" y1="214.60" x2="706.30" y2="260.60" stroke="#000" stroke-width="1.5"/>
<line x1="672.70" y1="260.60" x2="706.30" y2="260.60" stroke="#000" stroke-width="0.9"/>
<line x1="672.70" y1="257.60" x2="680.00" y2="257.60" stroke="#000" stroke-width="0.9"/>
<path d="M706.30,186.80 L712.00,186.80 L716.00,187.60" fill="none" stroke="#000" stroke-width="0.9" />
<path d="M706.30,216.20 L712.00,216.20 L716.00,215.20" fill="none" stroke="#000" stroke-width="0.9" />
<rect x="722.00" y="185.50" width="12.70" height="2.20" fill="#ccc" stroke="#333" stroke-width="0.7"/>
<rect x="734.70" y="182.00" width="3.50" height="6.40" fill="none" stroke="#000" stroke-width="0.9" rx="0.8"/>
<rect x="738.20" y="180.20" width="4.10" height="8.20" fill="none" stroke="#000" stroke-width="0.9"/>
<rect x="742.30" y="180.20" width="4.30" height="8.20" fill="none" stroke="#000" stroke-width="0.9"/>
<rect x="746.60" y="180.20" width="40.00" height="8.20" fill="none" stroke="#000" stroke-width="0.9"/>
<rect x="746.60" y="180.20" width="40.00" height="2.50" fill="#ccc" stroke="#000" stroke-width="0.8"/>
<path d="M786.6,188.4 L786.6,180.2 L793.5,175.2 Q795.5,173.7 798,173.7 Q805.3,174.2 805.3,182 L805.3,188.4" fill="none" stroke="#000" stroke-width="0.9" />
<circle cx="797.70" cy="182.20" r="2.80" fill="none" stroke="#000" stroke-width="0.9"/>
<path d="M805.3,188.4 L805.3,220.5 Q805.3,222.7 803,222.7" fill="none" stroke="#000" stroke-width="0.9" />
<path d="M805.30,186.00 L825.50,186.00 L825.50,216.90 L805.30,216.90" fill="none" stroke="#000" stroke-width="0.9" />
<rect x="722.00" y="215.00" width="12.70" height="2.20" fill="#ccc" stroke="#333" stroke-width="0.7"/>
<rect x="734.70" y="214.60" width="3.50" height="6.40" fill="none" stroke="#000" stroke-width="0.9" rx="0.8"/>
<rect x="738.20" y="214.60" width="4.10" height="8.10" fill="none" stroke="#000" stroke-width="0.9"/>
<rect x="742.30" y="214.60" width="4.30" height="8.10" fill="none" stroke="#000" stroke-width="0.9"/>
<rect x="746.60" y="214.60" width="40.00" height="8.10" fill="none" stroke="#000" stroke-width="0.9"/>
<rect x="746.60" y="220.30" width="40.00" height="2.40" fill="#ccc" stroke="#000" stroke-width="0.8"/>
<line x1="746.60" y1="216.30" x2="786.60" y2="216.30" stroke="#000" stroke-width="0.7"/>
<line x1="786.60" y1="222.70" x2="803.00" y2="222.70" stroke="#000" stroke-width="0.9"/>
<line x1="753.20" y1="222.70" x2="753.20" y2="350.70" stroke="#000" stroke-width="0.9"/>
<line x1="780.70" y1="222.70" x2="780.70" y2="350.70" stroke="#000" stroke-width="0.9"/>
<rect x="751.50" y="350.70" width="31.00" height="1.90" fill="none" stroke="#000" stroke-width="0.9"/>
<line x1="766.20" y1="219.00" x2="766.20" y2="325.00" stroke="#000" stroke-width="0.8" stroke-dasharray="11 2.2 3 2.2"/>
<line x1="766.20" y1="325.00" x2="766.20" y2="354.50" stroke="#000" stroke-width="1.2"/>
<line x1="157.50" y1="327.20" x2="766.20" y2="327.20" stroke="#000" stroke-width="1.25"/>
<polygon points="157.50,327.20 164.50,325.55 164.50,328.85" fill="#000"/>
<polygon points="766.20,327.20 759.20,328.85 759.20,325.55" fill="#000"/>
<text x="462.00" y="324.50" class="l" font-size="9" text-anchor="middle" fill="#000" textLength="20.00" lengthAdjust="spacingAndGlyphs">(L2)</text>
<line x1="194.50" y1="261.10" x2="194.50" y2="352.00" stroke="#000" stroke-width="1.3"/>
<polygon points="194.50,261.10 196.15,268.10 192.85,268.10" fill="#000"/>
<polygon points="194.50,352.00 192.85,345.00 196.15,345.00" fill="#000"/>
<line x1="173.00" y1="352.30" x2="197.00" y2="352.30" stroke="#000" stroke-width="1.3"/>
<text x="0" y="0" class="l" font-size="10.8" text-anchor="middle" fill="#000" textLength="20.00" lengthAdjust="spacingAndGlyphs" transform="translate(192.20,306.30) rotate(-90)">485</text>
<text x="147.50" y="123.20" class="cb" font-size="7.6" text-anchor="middle" fill="#000" textLength="23.00" lengthAdjust="spacingAndGlyphs">止推板</text>
<line x1="135.00" y1="125.50" x2="159.00" y2="125.50" stroke="#000" stroke-width="1.0"/>
<line x1="159.00" y1="125.50" x2="163.80" y2="166.30" stroke="#000" stroke-width="1.0"/>
<text x="260.90" y="123.20" class="cb" font-size="7.6" text-anchor="middle" fill="#000" textLength="14.20" lengthAdjust="spacingAndGlyphs">滤板</text>
<line x1="252.80" y1="125.50" x2="268.00" y2="125.50" stroke="#000" stroke-width="1.0"/>
<line x1="268.00" y1="125.50" x2="272.50" y2="156.30" stroke="#000" stroke-width="1.0"/>
<text x="360.00" y="123.20" class="cb" font-size="7.6" text-anchor="middle" fill="#000" textLength="15.00" lengthAdjust="spacingAndGlyphs">滤布</text>
<line x1="351.50" y1="125.50" x2="367.50" y2="125.50" stroke="#000" stroke-width="1.0"/>
<line x1="367.50" y1="125.50" x2="373.80" y2="156.00" stroke="#000" stroke-width="1.0"/>
<text x="463.40" y="123.20" class="cb" font-size="7.6" text-anchor="middle" fill="#000" textLength="14.20" lengthAdjust="spacingAndGlyphs">横梁</text>
<line x1="455.30" y1="125.50" x2="470.50" y2="125.50" stroke="#000" stroke-width="1.0"/>
<line x1="470.50" y1="125.50" x2="481.30" y2="201.60" stroke="#000" stroke-width="1.0"/>
<text x="687.85" y="123.20" class="cb" font-size="7.6" text-anchor="middle" fill="#000" textLength="22.30" lengthAdjust="spacingAndGlyphs">压紧板</text>
<line x1="675.70" y1="125.50" x2="699.00" y2="125.50" stroke="#000" stroke-width="1.0"/>
<line x1="699.00" y1="125.50" x2="701.70" y2="151.70" stroke="#000" stroke-width="1.0"/>
<text x="751.15" y="123.20" class="cb" font-size="7.6" text-anchor="middle" fill="#000" textLength="22.30" lengthAdjust="spacingAndGlyphs">油缸座</text>
<line x1="739.00" y1="125.50" x2="762.30" y2="125.50" stroke="#000" stroke-width="1.0"/>
<line x1="762.30" y1="125.50" x2="770.00" y2="185.00" stroke="#000" stroke-width="1.0"/>
<text x="800.80" y="123.20" class="cb" font-size="7.6" text-anchor="middle" fill="#000" textLength="15.00" lengthAdjust="spacingAndGlyphs">油缸</text>
<line x1="792.30" y1="125.50" x2="808.30" y2="125.50" stroke="#000" stroke-width="1.0"/>
<line x1="808.30" y1="125.50" x2="817.70" y2="195.70" stroke="#000" stroke-width="1.0"/>
<text x="856.20" y="123.20" class="cb" font-size="7.6" text-anchor="middle" fill="#000" textLength="29.00" lengthAdjust="spacingAndGlyphs">电控液压</text>
<line x1="840.70" y1="125.50" x2="870.70" y2="125.50" stroke="#000" stroke-width="1.0"/>
<line x1="870.70" y1="125.50" x2="887.30" y2="285.00" stroke="#000" stroke-width="1.0"/>
</g>
<g id="part_hyd">
<line x1="817.00" y1="260.50" x2="911.50" y2="260.50" stroke="#000" stroke-width="1.5"/>
<path d="M817.00,260.50 L817.00,352.70 L828.50,352.70 L836.30,335.80 L892.90,335.80 L900.30,352.70 L911.50,352.70" fill="none" stroke="#000" stroke-width="0.9" />
<rect x="814.60" y="273.00" width="2.40" height="6.00" fill="none" stroke="#000" stroke-width="0.9"/>
<line x1="814.60" y1="276.00" x2="817.00" y2="276.00" stroke="#000" stroke-width="0.6"/>
<rect x="811.20" y="330.20" width="5.80" height="6.80" fill="none" stroke="#000" stroke-width="0.9" rx="0.8"/>
<line x1="813.20" y1="330.20" x2="813.20" y2="337.00" stroke="#000" stroke-width="0.6"/>
<path d="M863.5,221 L863.5,207 Q863.5,200 870.5,200 L895,200 Q902,200 902,207 L902,221 Z" fill="none" stroke="#000" stroke-width="0.9" />
<line x1="863.50" y1="208.60" x2="902.00" y2="208.60" stroke="#000" stroke-width="0.9"/>
<rect x="865.00" y="221.00" width="36.00" height="33.00" fill="none" stroke="#000" stroke-width="0.9"/>
<rect x="865.90" y="221.80" width="1.40" height="31.70" fill="#999" stroke="#222" stroke-width="0.5"/>
<rect x="869.60" y="221.80" width="2.60" height="31.70" fill="#999" stroke="#222" stroke-width="0.5"/>
<rect x="875.30" y="221.80" width="2.60" height="31.70" fill="#999" stroke="#222" stroke-width="0.5"/>
<rect x="880.90" y="221.80" width="2.60" height="31.70" fill="#999" stroke="#222" stroke-width="0.5"/>
<rect x="886.30" y="221.80" width="2.60" height="31.70" fill="#999" stroke="#222" stroke-width="0.5"/>
<rect x="891.90" y="221.80" width="2.60" height="31.70" fill="#999" stroke="#222" stroke-width="0.5"/>
<rect x="897.70" y="221.80" width="1.40" height="31.70" fill="#999" stroke="#222" stroke-width="0.5"/>
<rect x="864.00" y="254.00" width="38.00" height="6.00" fill="none" stroke="#000" stroke-width="0.9"/>
<line x1="864.00" y1="257.30" x2="902.00" y2="257.30" stroke="#000" stroke-width="0.9"/>
<rect x="830.00" y="213.50" width="13.00" height="18.50" fill="none" stroke="#000" stroke-width="0.9" rx="0.8"/>
<line x1="838.00" y1="213.50" x2="838.00" y2="232.00" stroke="#000" stroke-width="0.7"/>
<rect x="843.00" y="221.50" width="3.00" height="3.50" fill="none" stroke="#000" stroke-width="0.9" rx="0.5"/>
<rect x="832.30" y="232.00" width="4.00" height="9.00" fill="none" stroke="#000" stroke-width="0.9"/>
<line x1="832.30" y1="235.00" x2="836.30" y2="235.00" stroke="#000" stroke-width="0.7"/>
<line x1="832.30" y1="238.00" x2="836.30" y2="238.00" stroke="#000" stroke-width="0.7"/>
<path d="M827.00,241.00 L845.00,241.00 L847.00,243.00 L847.00,257.00 L845.50,259.00 L826.50,259.00 L825.00,257.00 L825.00,243.00 Z" fill="none" stroke="#000" stroke-width="0.9" />
<path d="M828.50,242.50 L843.50,242.50 L845.50,244.50 L845.50,255.50 L843.50,257.50 L828.50,257.50 L826.50,255.50 L826.50,244.50 Z" fill="none" stroke="#777" stroke-width="0.5" />
<circle cx="831.00" cy="244.60" r="1.00" fill="none" stroke="#000" stroke-width="0.7"/>
<circle cx="840.50" cy="244.60" r="1.00" fill="none" stroke="#000" stroke-width="0.7"/>
<circle cx="831.00" cy="255.40" r="1.00" fill="none" stroke="#000" stroke-width="0.7"/>
<circle cx="840.50" cy="255.40" r="1.00" fill="none" stroke="#000" stroke-width="0.7"/>
<rect x="822.60" y="245.00" width="2.40" height="3.00" fill="none" stroke="#000" stroke-width="0.9" rx="0.5"/>
<rect x="822.60" y="253.00" width="2.40" height="3.20" fill="none" stroke="#000" stroke-width="0.9" rx="0.5"/>
<rect x="826.50" y="259.00" width="19.50" height="1.30" fill="none" stroke="#000" stroke-width="0.7"/>
<rect x="847.00" y="243.00" width="6.00" height="16.50" fill="none" stroke="#000" stroke-width="0.9"/>
<rect x="845.00" y="235.50" width="9.00" height="4.50" fill="none" stroke="#000" stroke-width="0.9"/>
<rect x="850.30" y="236.30" width="3.00" height="3.00" fill="#888" stroke="#000" stroke-width="0.6"/>
<rect x="846.50" y="240.00" width="4.50" height="3.00" fill="#bbb" stroke="#000" stroke-width="0.9"/>
<circle cx="855.00" cy="248.60" r="2.40" fill="#aaa" stroke="#000" stroke-width="0.9"/>
<path d="M851.5,259.5 L851.5,254 Q851.5,252 853.5,252 L860.5,252 Q862.5,252 862.5,254 L862.5,259.5" fill="none" stroke="#000" stroke-width="0.9" />
<line x1="851.50" y1="258.80" x2="862.50" y2="258.80" stroke="#000" stroke-width="1.6"/>
<path d="M911.50,352.70 L911.50,200.50 L926.70,200.50 L958.70,214.80 L958.70,242.30 L945.20,242.30 L945.20,341.50 L911.50,341.50" fill="none" stroke="#000" stroke-width="0.9" />
<path d="M911.50,210.40 L924.50,210.40 L956.30,224.40" fill="none" stroke="#000" stroke-width="0.9" />
<circle cx="910.40" cy="210.40" r="0.90" fill="none" stroke="#000" stroke-width="0.7"/>
<path d="M945.20,244.00 L948.60,244.00 L948.60,335.00 L945.20,335.00" fill="none" stroke="#000" stroke-width="0.9" />
<rect x="948.60" y="287.70" width="3.40" height="14.70" fill="none" stroke="#000" stroke-width="0.9" rx="0.6"/>
<line x1="950.60" y1="290.00" x2="950.60" y2="300.50" stroke="#000" stroke-width="0.7"/>
<rect x="911.50" y="341.50" width="15.20" height="4.20" fill="none" stroke="#000" stroke-width="0.9"/>
<rect x="929.80" y="341.50" width="15.40" height="4.20" fill="none" stroke="#000" stroke-width="0.9"/>
</g>
<g id="part_end">
<line x1="973.50" y1="104.50" x2="1131.50" y2="104.50" stroke="#000" stroke-width="1.3"/>
<polygon points="973.50,104.50 980.50,102.85 980.50,106.15" fill="#000"/>
<polygon points="1131.50,104.50 1124.50,106.15 1124.50,102.85" fill="#000"/>
<text x="1052.50" y="102.00" class="l" font-size="10.8" text-anchor="middle" fill="#000" textLength="19.50" lengthAdjust="spacingAndGlyphs">834</text>
<line x1="973.50" y1="102.00" x2="973.50" y2="186.00" stroke="#000" stroke-width="1.2"/>
<line x1="1131.50" y1="102.00" x2="1131.50" y2="186.00" stroke="#000" stroke-width="1.2"/>
<line x1="992.50" y1="115.70" x2="1112.50" y2="115.70" stroke="#000" stroke-width="1.3"/>
<polygon points="992.50,115.70 999.50,114.05 999.50,117.35" fill="#000"/>
<polygon points="1112.50,115.70 1105.50,117.35 1105.50,114.05" fill="#000"/>
<text x="1052.50" y="113.40" class="l" font-size="10.8" text-anchor="middle" fill="#000" textLength="43.00" lengthAdjust="spacingAndGlyphs">630X630</text>
<line x1="992.50" y1="113.50" x2="992.50" y2="142.50" stroke="#000" stroke-width="1.2"/>
<line x1="1112.50" y1="113.50" x2="1112.50" y2="142.50" stroke="#000" stroke-width="1.2"/>
<line x1="1004.50" y1="127.30" x2="1100.50" y2="127.30" stroke="#000" stroke-width="1.3"/>
<polygon points="1004.50,127.30 1011.50,125.65 1011.50,128.95" fill="#000"/>
<polygon points="1100.50,127.30 1093.50,128.95 1093.50,125.65" fill="#000"/>
<text x="1052.50" y="125.20" class="l" font-size="10.8" text-anchor="middle" fill="#000" textLength="39.50" lengthAdjust="spacingAndGlyphs">510X510</text>
<line x1="992.50" y1="142.50" x2="1112.50" y2="142.50" stroke="#000" stroke-width="1.2"/>
<line x1="1013.00" y1="260.50" x2="1092.00" y2="260.50" stroke="#000" stroke-width="1.5"/>
<line x1="993.00" y1="160.00" x2="993.00" y2="180.00" stroke="#000" stroke-width="1.6"/>
<line x1="1112.00" y1="160.00" x2="1112.00" y2="180.00" stroke="#000" stroke-width="1.6"/>
<line x1="993.50" y1="223.50" x2="993.50" y2="241.00" stroke="#000" stroke-width="0.9"/>
<line x1="1111.50" y1="223.50" x2="1111.50" y2="241.00" stroke="#000" stroke-width="0.9"/>
<line x1="1052.50" y1="142.50" x2="1052.50" y2="261.50" stroke="#000" stroke-width="0.8" stroke-dasharray="9 2.2 2.5 2.2"/>
<line x1="992.50" y1="201.50" x2="1112.50" y2="201.50" stroke="#000" stroke-width="0.8" stroke-dasharray="9 2.2 2.5 2.2"/>
<line x1="1112.50" y1="201.50" x2="1140.00" y2="201.50" stroke="#000" stroke-width="1.2"/>
<circle cx="1052.50" cy="135.00" r="5.40" fill="none" stroke="#000" stroke-width="0.9"/>
<circle cx="1052.50" cy="135.00" r="3.40" fill="none" stroke="#000" stroke-width="0.9"/>
<rect x="1051.30" y="140.00" width="2.40" height="2.50" fill="none" stroke="#000" stroke-width="0.7"/>
<circle cx="1004.50" cy="153.50" r="13.70" fill="#fff" stroke="#000" stroke-width="1.05"/>
<circle cx="1004.50" cy="153.50" r="7.70" fill="none" stroke="#000" stroke-width="1.05"/>
<circle cx="1004.50" cy="153.50" r="3.60" fill="none" stroke="#000" stroke-width="1.05"/>
<circle cx="997.00" cy="146.00" r="1.50" fill="none" stroke="#000" stroke-width="1.0"/>
<circle cx="997.00" cy="161.00" r="1.50" fill="none" stroke="#000" stroke-width="1.0"/>
<circle cx="1012.00" cy="146.00" r="1.50" fill="none" stroke="#000" stroke-width="1.0"/>
<circle cx="1012.00" cy="161.00" r="1.50" fill="none" stroke="#000" stroke-width="1.0"/>
<circle cx="1004.50" cy="249.50" r="13.70" fill="#fff" stroke="#000" stroke-width="1.05"/>
<circle cx="1004.50" cy="249.50" r="7.70" fill="none" stroke="#000" stroke-width="1.05"/>
<circle cx="1004.50" cy="249.50" r="3.60" fill="none" stroke="#000" stroke-width="1.05"/>
<circle cx="997.00" cy="242.00" r="1.50" fill="none" stroke="#000" stroke-width="1.0"/>
<circle cx="997.00" cy="257.00" r="1.50" fill="none" stroke="#000" stroke-width="1.0"/>
<circle cx="1012.00" cy="242.00" r="1.50" fill="none" stroke="#000" stroke-width="1.0"/>
<circle cx="1012.00" cy="257.00" r="1.50" fill="none" stroke="#000" stroke-width="1.0"/>
<circle cx="1100.50" cy="153.50" r="13.70" fill="#fff" stroke="#000" stroke-width="1.05"/>
<circle cx="1100.50" cy="153.50" r="7.70" fill="none" stroke="#000" stroke-width="1.05"/>
<circle cx="1100.50" cy="153.50" r="3.60" fill="none" stroke="#000" stroke-width="1.05"/>
<circle cx="1093.00" cy="146.00" r="1.50" fill="none" stroke="#000" stroke-width="1.0"/>
<circle cx="1093.00" cy="161.00" r="1.50" fill="none" stroke="#000" stroke-width="1.0"/>
<circle cx="1108.00" cy="146.00" r="1.50" fill="none" stroke="#000" stroke-width="1.0"/>
<circle cx="1108.00" cy="161.00" r="1.50" fill="none" stroke="#000" stroke-width="1.0"/>
<circle cx="1100.50" cy="249.50" r="13.70" fill="#fff" stroke="#000" stroke-width="1.05"/>
<circle cx="1100.50" cy="249.50" r="7.70" fill="none" stroke="#000" stroke-width="1.05"/>
<circle cx="1100.50" cy="249.50" r="3.60" fill="none" stroke="#000" stroke-width="1.05"/>
<circle cx="1093.00" cy="242.00" r="1.50" fill="none" stroke="#000" stroke-width="1.0"/>
<circle cx="1093.00" cy="257.00" r="1.50" fill="none" stroke="#000" stroke-width="1.0"/>
<circle cx="1108.00" cy="242.00" r="1.50" fill="none" stroke="#000" stroke-width="1.0"/>
<circle cx="1108.00" cy="257.00" r="1.50" fill="none" stroke="#000" stroke-width="1.0"/>
<line x1="1004.50" y1="125.50" x2="1004.50" y2="153.50" stroke="#000" stroke-width="1.2"/>
<line x1="1100.50" y1="125.50" x2="1100.50" y2="153.50" stroke="#000" stroke-width="1.2"/>
<circle cx="1052.50" cy="167.50" r="15.50" fill="#fff" stroke="#000" stroke-width="1.0"/>
<circle cx="1052.50" cy="167.50" r="9.60" fill="none" stroke="#000" stroke-width="1.4"/>
<circle cx="1052.50" cy="167.50" r="4.60" fill="none" stroke="#000" stroke-width="1.2"/>
<line x1="1031.00" y1="167.50" x2="1076.00" y2="167.50" stroke="#000" stroke-width="0.7" stroke-dasharray="14 2.2 2.5 2.2"/>
<circle cx="1064.40" cy="167.50" r="1.60" fill="#fff" stroke="#000" stroke-width="1.0"/>
<circle cx="1052.50" cy="179.40" r="1.60" fill="#fff" stroke="#000" stroke-width="1.0"/>
<circle cx="1040.60" cy="167.50" r="1.60" fill="#fff" stroke="#000" stroke-width="1.0"/>
<circle cx="1052.50" cy="155.60" r="1.60" fill="#fff" stroke="#000" stroke-width="1.0"/>
<rect x="988.00" y="158.60" width="4.50" height="5.90" fill="none" stroke="#000" stroke-width="0.9"/>
<path d="M989.00,164.3 L987.00,164.3 A12.5,12.5 0 0 0 974.50,176.8 L974.50,186.5" fill="none" stroke="#000" stroke-width="1.1" />
<path d="M989.00,165.7 L987.00,165.7 A11.1,11.1 0 0 0 975.90,176.8 L975.90,184" fill="none" stroke="#000" stroke-width="0.9" />
<path d="M989.00,169.2 L987.00,169.2 A7.6,7.6 0 0 0 979.40,176.8 L979.40,185" fill="none" stroke="#000" stroke-width="1.2" />
<path d="M974.50,186.5 Q974.50,188 976.00,188 L982.50,188" fill="none" stroke="#000" stroke-width="0.9" />
<line x1="975.00" y1="186.20" x2="982.00" y2="186.20" stroke="#000" stroke-width="1.2"/>
<rect x="975.40" y="181.50" width="2.00" height="3.50" fill="none" stroke="#000" stroke-width="0.7"/>
<line x1="982.70" y1="174.00" x2="982.70" y2="223.50" stroke="#000" stroke-width="0.9"/>
<line x1="988.40" y1="171.00" x2="988.40" y2="223.50" stroke="#000" stroke-width="0.8"/>
<line x1="990.40" y1="171.00" x2="990.40" y2="223.50" stroke="#000" stroke-width="0.8"/>
<line x1="993.20" y1="160.00" x2="993.20" y2="223.50" stroke="#000" stroke-width="1.3"/>
<line x1="982.70" y1="174.00" x2="988.40" y2="174.00" stroke="#000" stroke-width="0.9"/>
<line x1="982.70" y1="180.50" x2="993.00" y2="180.50" stroke="#000" stroke-width="0.8"/>
<line x1="982.70" y1="182.50" x2="993.00" y2="182.50" stroke="#000" stroke-width="0.8"/>
<line x1="982.70" y1="215.50" x2="993.00" y2="215.50" stroke="#000" stroke-width="0.8"/>
<line x1="982.70" y1="220.50" x2="993.00" y2="220.50" stroke="#000" stroke-width="0.8"/>
<line x1="982.70" y1="223.50" x2="993.00" y2="223.50" stroke="#000" stroke-width="0.9"/>
<rect x="980.00" y="198.00" width="2.70" height="7.00" fill="none" stroke="#000" stroke-width="0.9" rx="0.5"/>
<rect x="1112.50" y="158.60" width="4.50" height="5.90" fill="none" stroke="#000" stroke-width="0.9"/>
<path d="M1116.00,164.3 L1118.00,164.3 A12.5,12.5 0 0 1 1130.50,176.8 L1130.50,186.5" fill="none" stroke="#000" stroke-width="1.1" />
<path d="M1116.00,165.7 L1118.00,165.7 A11.1,11.1 0 0 1 1129.10,176.8 L1129.10,184" fill="none" stroke="#000" stroke-width="0.9" />
<path d="M1116.00,169.2 L1118.00,169.2 A7.6,7.6 0 0 1 1125.60,176.8 L1125.60,185" fill="none" stroke="#000" stroke-width="1.2" />
<path d="M1130.50,186.5 Q1130.50,188 1129.00,188 L1122.50,188" fill="none" stroke="#000" stroke-width="0.9" />
<line x1="1130.00" y1="186.20" x2="1123.00" y2="186.20" stroke="#000" stroke-width="1.2"/>
<rect x="1127.60" y="181.50" width="2.00" height="3.50" fill="none" stroke="#000" stroke-width="0.7"/>
<line x1="1122.30" y1="174.00" x2="1122.30" y2="223.50" stroke="#000" stroke-width="0.9"/>
<line x1="1116.60" y1="171.00" x2="1116.60" y2="223.50" stroke="#000" stroke-width="0.8"/>
<line x1="1114.60" y1="171.00" x2="1114.60" y2="223.50" stroke="#000" stroke-width="0.8"/>
<line x1="1111.80" y1="160.00" x2="1111.80" y2="223.50" stroke="#000" stroke-width="1.3"/>
<line x1="1122.30" y1="174.00" x2="1116.60" y2="174.00" stroke="#000" stroke-width="0.9"/>
<line x1="1122.30" y1="180.50" x2="1112.00" y2="180.50" stroke="#000" stroke-width="0.8"/>
<line x1="1122.30" y1="182.50" x2="1112.00" y2="182.50" stroke="#000" stroke-width="0.8"/>
<line x1="1122.30" y1="215.50" x2="1112.00" y2="215.50" stroke="#000" stroke-width="0.8"/>
<line x1="1122.30" y1="220.50" x2="1112.00" y2="220.50" stroke="#000" stroke-width="0.8"/>
<line x1="1122.30" y1="223.50" x2="1112.00" y2="223.50" stroke="#000" stroke-width="0.9"/>
<rect x="1122.30" y="198.00" width="2.70" height="7.00" fill="none" stroke="#000" stroke-width="0.9" rx="0.5"/>
<path d="M974.00,238.60 L975.00,237.60 L987.00,241.20 L987.60,244.20 L983.50,244.20 L974.40,240.20 Z" fill="none" stroke="#000" stroke-width="0.9" />
<rect x="983.20" y="244.20" width="4.40" height="4.40" fill="none" stroke="#000" stroke-width="0.9"/>
<path d="M991.00,247.40 L984.00,247.40 L979.00,249.40 L977.00,252.60 L978.40,254.00 L982.00,251.60 L985.00,252.40 L991.00,252.40" fill="none" stroke="#000" stroke-width="0.9" />
<path d="M983.20,248.60 L983.20,250.00" fill="none" stroke="#000" stroke-width="0.9" />
<path d="M1131.00,238.60 L1130.00,237.60 L1118.00,241.20 L1117.40,244.20 L1121.50,244.20 L1130.60,240.20 Z" fill="none" stroke="#000" stroke-width="0.9" />
<rect x="1117.40" y="244.20" width="4.40" height="4.40" fill="none" stroke="#000" stroke-width="0.9"/>
<path d="M1114.00,247.40 L1121.00,247.40 L1126.00,249.40 L1128.00,252.60 L1126.60,254.00 L1123.00,251.60 L1120.00,252.40 L1114.00,252.40" fill="none" stroke="#000" stroke-width="0.9" />
<path d="M1121.80,248.60 L1121.80,250.00" fill="none" stroke="#000" stroke-width="0.9" />
<line x1="962.50" y1="142.50" x2="992.50" y2="142.50" stroke="#000" stroke-width="1.2"/>
<line x1="962.50" y1="188.00" x2="978.00" y2="188.00" stroke="#000" stroke-width="1.2"/>
<line x1="964.50" y1="142.50" x2="964.50" y2="188.00" stroke="#000" stroke-width="1.3"/>
<polygon points="964.50,142.50 966.15,149.50 962.85,149.50" fill="#000"/>
<polygon points="964.50,188.00 962.85,181.00 966.15,181.00" fill="#000"/>
<text x="0" y="0" class="l" font-size="11.3" text-anchor="middle" fill="#000" textLength="18.00" lengthAdjust="spacingAndGlyphs" transform="translate(962.20,165.30) rotate(-90)">243</text>
<line x1="1034.00" y1="167.50" x2="1034.00" y2="201.50" stroke="#000" stroke-width="1.3"/>
<polygon points="1034.00,167.50 1035.65,174.50 1032.35,174.50" fill="#000"/>
<polygon points="1034.00,201.50 1032.35,194.50 1035.65,194.50" fill="#000"/>
<text x="0" y="0" class="l" font-size="11" text-anchor="middle" fill="#000" textLength="16.00" lengthAdjust="spacingAndGlyphs" transform="translate(1031.80,184.50) rotate(-90)">180</text>
<line x1="1003.50" y1="260.50" x2="1003.50" y2="350.50" stroke="#444" stroke-width="0.9"/>
<line x1="1030.50" y1="260.50" x2="1030.50" y2="350.50" stroke="#444" stroke-width="0.9"/>
<line x1="1075.00" y1="260.50" x2="1075.00" y2="350.50" stroke="#444" stroke-width="0.9"/>
<line x1="1101.50" y1="260.50" x2="1101.50" y2="350.50" stroke="#444" stroke-width="0.9"/>
<rect x="990.00" y="350.50" width="42.00" height="2.00" fill="none" stroke="#000" stroke-width="0.8"/>
<rect x="1073.00" y="350.50" width="42.00" height="2.00" fill="none" stroke="#000" stroke-width="0.8"/>
<line x1="995.50" y1="347.00" x2="995.50" y2="357.00" stroke="#777" stroke-width="0.9"/>
<line x1="1109.00" y1="347.00" x2="1109.00" y2="357.00" stroke="#777" stroke-width="0.9"/>
<line x1="995.50" y1="357.00" x2="995.50" y2="371.50" stroke="#000" stroke-width="1.2"/>
<line x1="1109.00" y1="357.00" x2="1109.00" y2="371.50" stroke="#000" stroke-width="1.2"/>
<line x1="995.50" y1="369.20" x2="1109.00" y2="369.20" stroke="#000" stroke-width="1.3"/>
<polygon points="995.50,369.20 1002.50,367.55 1002.50,370.85" fill="#000"/>
<polygon points="1109.00,369.20 1102.00,370.85 1102.00,367.55" fill="#000"/>
<text x="1052.50" y="366.40" class="l" font-size="10.8" text-anchor="middle" fill="#000" textLength="17.00" lengthAdjust="spacingAndGlyphs">600</text>
<line x1="1112.50" y1="142.50" x2="1166.00" y2="142.50" stroke="#000" stroke-width="1.2"/>
<line x1="1115.50" y1="352.30" x2="1164.50" y2="352.30" stroke="#000" stroke-width="1.3"/>
<line x1="1162.00" y1="142.50" x2="1162.00" y2="352.30" stroke="#000" stroke-width="1.3"/>
<polygon points="1162.00,142.50 1163.65,149.50 1160.35,149.50" fill="#000"/>
<polygon points="1162.00,352.30 1160.35,345.30 1163.65,345.30" fill="#000"/>
<text x="0" y="0" class="l" font-size="10.8" text-anchor="middle" fill="#000" textLength="19.50" lengthAdjust="spacingAndGlyphs" transform="translate(1160.00,247.00) rotate(-90)">1115</text>
<line x1="1136.60" y1="201.50" x2="1136.60" y2="352.30" stroke="#000" stroke-width="1.3"/>
<polygon points="1136.60,201.50 1138.25,208.50 1134.95,208.50" fill="#000"/>
<polygon points="1136.60,352.30 1134.95,345.30 1138.25,345.30" fill="#000"/>
<text x="0" y="0" class="l" font-size="10.8" text-anchor="middle" fill="#000" textLength="16.70" lengthAdjust="spacingAndGlyphs" transform="translate(1135.00,277.00) rotate(-90)">800</text>
<text x="1009.00" y="178.80" class="cb" font-size="7.6" text-anchor="middle" fill="#000" textLength="22.00" lengthAdjust="spacingAndGlyphs">洗涤口</text>
<text x="1070.50" y="190.30" class="cb" font-size="7.6" text-anchor="middle" fill="#000" textLength="22.00" lengthAdjust="spacingAndGlyphs">进料口</text>
<text x="1076.00" y="241.30" class="cb" font-size="7.6" text-anchor="middle" fill="#000" textLength="22.00" lengthAdjust="spacingAndGlyphs">暗流口</text>
<text x="976.00" y="264.80" class="cb" font-size="7.6" text-anchor="middle" fill="#000" textLength="22.00" lengthAdjust="spacingAndGlyphs">明流口</text>
</g>
</svg>
</body></html>
